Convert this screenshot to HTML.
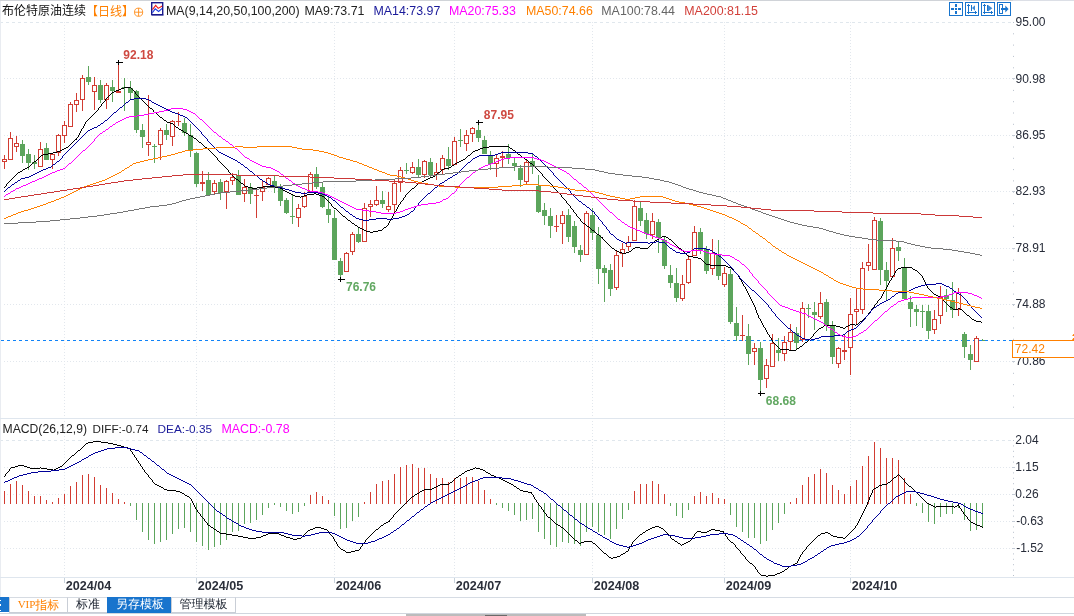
<!DOCTYPE html>
<html><head><meta charset="utf-8"><title>布伦特原油连续</title>
<style>
html,body{margin:0;padding:0;background:#fff;}
body{width:1074px;height:616px;overflow:hidden;position:relative;font-family:"Liberation Sans","Noto Sans CJK SC",sans-serif;}
svg{position:absolute;left:0;top:0;}
.t{position:absolute;white-space:nowrap;font-size:12.4px;line-height:14px;height:14px;}
.cj{font-family:"Liberation Sans","Noto Sans CJK SC",sans-serif;font-size:12px;}
.tab{position:absolute;top:597px;height:14px;line-height:14.5px;font-size:12px;border:1px solid #c9ced6;border-top-color:#d6dbe2;background:#fff;text-align:center;font-family:"Liberation Mono","WenQuanYi Zen Hei","Noto Sans CJK SC",monospace;box-sizing:content-box;}
</style></head><body>
<svg width="1074" height="616" viewBox="0 0 1074 616">
<line x1="0" y1="22.5" x2="1011" y2="22.5" stroke="#e0e7ed" stroke-width="1" stroke-dasharray="3,3"/>
<line x1="4" y1="78.5" x2="1011" y2="78.5" stroke="#e2e7ed" stroke-width="1" stroke-dasharray="1,2"/>
<line x1="4" y1="135.5" x2="1011" y2="135.5" stroke="#e2e7ed" stroke-width="1" stroke-dasharray="1,2"/>
<line x1="4" y1="191.5" x2="1011" y2="191.5" stroke="#e2e7ed" stroke-width="1" stroke-dasharray="1,2"/>
<line x1="4" y1="248.5" x2="1011" y2="248.5" stroke="#e2e7ed" stroke-width="1" stroke-dasharray="1,2"/>
<line x1="4" y1="304.5" x2="1011" y2="304.5" stroke="#e2e7ed" stroke-width="1" stroke-dasharray="1,2"/>
<line x1="4" y1="361.5" x2="1011" y2="361.5" stroke="#e2e7ed" stroke-width="1" stroke-dasharray="1,2"/>
<line x1="0" y1="440.5" x2="1011" y2="440.5" stroke="#e0e7ed" stroke-width="1" stroke-dasharray="3,3"/>
<line x1="4" y1="467.5" x2="1011" y2="467.5" stroke="#e2e7ed" stroke-width="1" stroke-dasharray="1,2"/>
<line x1="4" y1="494.5" x2="1011" y2="494.5" stroke="#e2e7ed" stroke-width="1" stroke-dasharray="1,2"/>
<line x1="4" y1="521.5" x2="1011" y2="521.5" stroke="#e2e7ed" stroke-width="1" stroke-dasharray="1,2"/>
<line x1="4" y1="548.5" x2="1011" y2="548.5" stroke="#e2e7ed" stroke-width="1" stroke-dasharray="1,2"/>
<line x1="64.5" y1="22" x2="64.5" y2="577" stroke="#e2e7ed" stroke-width="1" stroke-dasharray="1,2"/>
<line x1="64.5" y1="578" x2="64.5" y2="583" stroke="#c9d3dc" stroke-width="1"/>
<line x1="196.5" y1="22" x2="196.5" y2="577" stroke="#e2e7ed" stroke-width="1" stroke-dasharray="1,2"/>
<line x1="196.5" y1="578" x2="196.5" y2="583" stroke="#c9d3dc" stroke-width="1"/>
<line x1="334.5" y1="22" x2="334.5" y2="577" stroke="#e2e7ed" stroke-width="1" stroke-dasharray="1,2"/>
<line x1="334.5" y1="578" x2="334.5" y2="583" stroke="#c9d3dc" stroke-width="1"/>
<line x1="454.5" y1="22" x2="454.5" y2="577" stroke="#e2e7ed" stroke-width="1" stroke-dasharray="1,2"/>
<line x1="454.5" y1="578" x2="454.5" y2="583" stroke="#c9d3dc" stroke-width="1"/>
<line x1="592.5" y1="22" x2="592.5" y2="577" stroke="#e2e7ed" stroke-width="1" stroke-dasharray="1,2"/>
<line x1="592.5" y1="578" x2="592.5" y2="583" stroke="#c9d3dc" stroke-width="1"/>
<line x1="724.5" y1="22" x2="724.5" y2="577" stroke="#e2e7ed" stroke-width="1" stroke-dasharray="1,2"/>
<line x1="724.5" y1="578" x2="724.5" y2="583" stroke="#c9d3dc" stroke-width="1"/>
<line x1="850.5" y1="22" x2="850.5" y2="577" stroke="#e2e7ed" stroke-width="1" stroke-dasharray="1,2"/>
<line x1="850.5" y1="578" x2="850.5" y2="583" stroke="#c9d3dc" stroke-width="1"/>
<rect x="1013" y="22.0" width="1" height="1" fill="#b8c0cc"/>
<rect x="1013" y="33.3" width="1" height="1" fill="#b8c0cc"/>
<rect x="1013" y="44.6" width="1" height="1" fill="#b8c0cc"/>
<rect x="1013" y="55.9" width="1" height="1" fill="#b8c0cc"/>
<rect x="1013" y="67.3" width="1" height="1" fill="#b8c0cc"/>
<rect x="1013" y="78.6" width="1" height="1" fill="#b8c0cc"/>
<rect x="1013" y="89.9" width="1" height="1" fill="#b8c0cc"/>
<rect x="1013" y="101.2" width="1" height="1" fill="#b8c0cc"/>
<rect x="1013" y="112.5" width="1" height="1" fill="#b8c0cc"/>
<rect x="1013" y="123.8" width="1" height="1" fill="#b8c0cc"/>
<rect x="1013" y="135.2" width="1" height="1" fill="#b8c0cc"/>
<rect x="1013" y="146.5" width="1" height="1" fill="#b8c0cc"/>
<rect x="1013" y="157.8" width="1" height="1" fill="#b8c0cc"/>
<rect x="1013" y="169.1" width="1" height="1" fill="#b8c0cc"/>
<rect x="1013" y="180.4" width="1" height="1" fill="#b8c0cc"/>
<rect x="1013" y="191.7" width="1" height="1" fill="#b8c0cc"/>
<rect x="1013" y="203.1" width="1" height="1" fill="#b8c0cc"/>
<rect x="1013" y="214.4" width="1" height="1" fill="#b8c0cc"/>
<rect x="1013" y="225.7" width="1" height="1" fill="#b8c0cc"/>
<rect x="1013" y="237.0" width="1" height="1" fill="#b8c0cc"/>
<rect x="1013" y="248.3" width="1" height="1" fill="#b8c0cc"/>
<rect x="1013" y="259.6" width="1" height="1" fill="#b8c0cc"/>
<rect x="1013" y="271.0" width="1" height="1" fill="#b8c0cc"/>
<rect x="1013" y="282.3" width="1" height="1" fill="#b8c0cc"/>
<rect x="1013" y="293.6" width="1" height="1" fill="#b8c0cc"/>
<rect x="1013" y="304.9" width="1" height="1" fill="#b8c0cc"/>
<rect x="1013" y="316.2" width="1" height="1" fill="#b8c0cc"/>
<rect x="1013" y="327.5" width="1" height="1" fill="#b8c0cc"/>
<rect x="1013" y="338.8" width="1" height="1" fill="#b8c0cc"/>
<rect x="1013" y="350.2" width="1" height="1" fill="#b8c0cc"/>
<rect x="1013" y="361.5" width="1" height="1" fill="#b8c0cc"/>
<rect x="1013" y="372.8" width="1" height="1" fill="#b8c0cc"/>
<rect x="1013" y="384.1" width="1" height="1" fill="#b8c0cc"/>
<rect x="1013" y="395.4" width="1" height="1" fill="#b8c0cc"/>
<rect x="1013" y="406.7" width="1" height="1" fill="#b8c0cc"/>
<rect x="1013" y="440.0" width="1" height="1" fill="#b8c0cc"/>
<rect x="1013" y="445.4" width="1" height="1" fill="#b8c0cc"/>
<rect x="1013" y="450.8" width="1" height="1" fill="#b8c0cc"/>
<rect x="1013" y="456.2" width="1" height="1" fill="#b8c0cc"/>
<rect x="1013" y="461.6" width="1" height="1" fill="#b8c0cc"/>
<rect x="1013" y="467.0" width="1" height="1" fill="#b8c0cc"/>
<rect x="1013" y="472.4" width="1" height="1" fill="#b8c0cc"/>
<rect x="1013" y="477.8" width="1" height="1" fill="#b8c0cc"/>
<rect x="1013" y="483.2" width="1" height="1" fill="#b8c0cc"/>
<rect x="1013" y="488.6" width="1" height="1" fill="#b8c0cc"/>
<rect x="1013" y="494.0" width="1" height="1" fill="#b8c0cc"/>
<rect x="1013" y="499.4" width="1" height="1" fill="#b8c0cc"/>
<rect x="1013" y="504.8" width="1" height="1" fill="#b8c0cc"/>
<rect x="1013" y="510.2" width="1" height="1" fill="#b8c0cc"/>
<rect x="1013" y="515.6" width="1" height="1" fill="#b8c0cc"/>
<rect x="1013" y="521.0" width="1" height="1" fill="#b8c0cc"/>
<rect x="1013" y="526.4" width="1" height="1" fill="#b8c0cc"/>
<rect x="1013" y="531.8" width="1" height="1" fill="#b8c0cc"/>
<rect x="1013" y="537.2" width="1" height="1" fill="#b8c0cc"/>
<rect x="1013" y="542.6" width="1" height="1" fill="#b8c0cc"/>
<rect x="1013" y="548.0" width="1" height="1" fill="#b8c0cc"/>
<rect x="1013" y="553.4" width="1" height="1" fill="#b8c0cc"/>
<rect x="1013" y="558.8" width="1" height="1" fill="#b8c0cc"/>
<rect x="1013" y="564.2" width="1" height="1" fill="#b8c0cc"/>
<rect x="1013" y="569.6" width="1" height="1" fill="#b8c0cc"/>
<rect x="1013" y="575.0" width="1" height="1" fill="#b8c0cc"/>
<rect x="1012" y="78" width="3" height="1" fill="#c5ccd6"/>
<rect x="1012" y="135" width="3" height="1" fill="#c5ccd6"/>
<rect x="1012" y="191" width="3" height="1" fill="#c5ccd6"/>
<rect x="1012" y="248" width="3" height="1" fill="#c5ccd6"/>
<rect x="1012" y="304" width="3" height="1" fill="#c5ccd6"/>
<rect x="1012" y="361" width="3" height="1" fill="#c5ccd6"/>
<rect x="1012" y="467" width="3" height="1" fill="#c5ccd6"/>
<rect x="1012" y="494" width="3" height="1" fill="#c5ccd6"/>
<rect x="1012" y="521" width="3" height="1" fill="#c5ccd6"/>
<rect x="1012" y="548" width="3" height="1" fill="#c5ccd6"/>
<rect x="0" y="0" width="1013" height="1" fill="#d0d3d8"/>
<rect x="1013" y="0" width="61" height="1" fill="#dcdfe6"/>
<rect x="0" y="1" width="1" height="596" fill="#e9ecf1"/>
<rect x="0" y="418" width="1074" height="1" fill="#dfe6ee"/>
<rect x="0" y="577" width="1074" height="1" fill="#dfe6ee"/>
<rect x="0" y="597" width="1074" height="1" fill="#d6dce4"/>
<line x1="1" y1="340.5" x2="1012" y2="340.5" stroke="#1083f8" stroke-width="1" stroke-dasharray="3,3"/>
<g shape-rendering="crispEdges"><rect x="4" y="155" width="1" height="4" fill="#D23C32"/><rect x="4" y="162" width="1" height="7" fill="#D23C32"/><rect x="2.5" y="159.5" width="4" height="2" fill="#fff" stroke="#D23C32" stroke-width="1"/><rect x="10" y="132" width="1" height="6" fill="#D23C32"/><rect x="8.5" y="138.5" width="4" height="21" fill="#fff" stroke="#D23C32" stroke-width="1"/><rect x="16" y="136" width="1" height="7" fill="#D23C32"/><rect x="16" y="147" width="1" height="5" fill="#D23C32"/><rect x="14.5" y="143.5" width="4" height="3" fill="#fff" stroke="#D23C32" stroke-width="1"/><rect x="22" y="140" width="1" height="23" fill="#5CA55C"/><rect x="20" y="144" width="5" height="12" fill="#5CA55C"/><rect x="28" y="149" width="1" height="21" fill="#5CA55C"/><rect x="26" y="154" width="5" height="9" fill="#5CA55C"/><rect x="34" y="155" width="1" height="14" fill="#5CA55C"/><rect x="32" y="162" width="5" height="2" fill="#5CA55C"/><rect x="40" y="142" width="1" height="7" fill="#D23C32"/><rect x="38.5" y="149.5" width="4" height="17" fill="#fff" stroke="#D23C32" stroke-width="1"/><rect x="46" y="143" width="1" height="17" fill="#5CA55C"/><rect x="44" y="148" width="5" height="12" fill="#5CA55C"/><rect x="52" y="154" width="1" height="0" fill="#D23C32"/><rect x="52" y="160" width="1" height="9" fill="#D23C32"/><rect x="50.5" y="154.5" width="4" height="5" fill="#fff" stroke="#D23C32" stroke-width="1"/><rect x="58" y="134" width="1" height="1" fill="#D23C32"/><rect x="58" y="153" width="1" height="3" fill="#D23C32"/><rect x="56.5" y="135.5" width="4" height="17" fill="#fff" stroke="#D23C32" stroke-width="1"/><rect x="64" y="121" width="1" height="4" fill="#D23C32"/><rect x="64" y="136" width="1" height="7" fill="#D23C32"/><rect x="62.5" y="125.5" width="4" height="10" fill="#fff" stroke="#D23C32" stroke-width="1"/><rect x="70" y="102" width="1" height="2" fill="#D23C32"/><rect x="68.5" y="104.5" width="4" height="22" fill="#fff" stroke="#D23C32" stroke-width="1"/><rect x="76" y="93" width="1" height="7" fill="#D23C32"/><rect x="76" y="105" width="1" height="7" fill="#D23C32"/><rect x="74.5" y="100.5" width="4" height="4" fill="#fff" stroke="#D23C32" stroke-width="1"/><rect x="82" y="75" width="1" height="3" fill="#D23C32"/><rect x="82" y="100" width="1" height="11" fill="#D23C32"/><rect x="80.5" y="78.5" width="4" height="21" fill="#fff" stroke="#D23C32" stroke-width="1"/><rect x="88" y="66" width="1" height="19" fill="#5CA55C"/><rect x="86" y="77" width="5" height="5" fill="#5CA55C"/><rect x="94" y="77" width="1" height="8" fill="#D23C32"/><rect x="94" y="92" width="1" height="18" fill="#D23C32"/><rect x="92.5" y="85.5" width="4" height="6" fill="#fff" stroke="#D23C32" stroke-width="1"/><rect x="100" y="80" width="1" height="23" fill="#5CA55C"/><rect x="98" y="85" width="5" height="15" fill="#5CA55C"/><rect x="106" y="83" width="1" height="2" fill="#D23C32"/><rect x="106" y="100" width="1" height="9" fill="#D23C32"/><rect x="104.5" y="85.5" width="4" height="14" fill="#fff" stroke="#D23C32" stroke-width="1"/><rect x="112" y="80" width="1" height="22" fill="#5CA55C"/><rect x="110" y="87" width="5" height="4" fill="#5CA55C"/><rect x="118" y="62" width="1" height="31" fill="#D23C32"/><rect x="116" y="91" width="5" height="2" fill="#D23C32"/><rect x="124" y="78" width="1" height="33" fill="#5CA55C"/><rect x="122" y="87" width="5" height="1" fill="#5CA55C"/><rect x="130" y="81" width="1" height="19" fill="#5CA55C"/><rect x="128" y="88" width="5" height="5" fill="#5CA55C"/><rect x="136" y="90" width="1" height="43" fill="#5CA55C"/><rect x="134" y="91" width="5" height="39" fill="#5CA55C"/><rect x="142" y="124" width="1" height="24" fill="#5CA55C"/><rect x="140" y="130" width="5" height="7" fill="#5CA55C"/><rect x="148" y="95" width="1" height="47" fill="#D23C32"/><rect x="148" y="145" width="1" height="11" fill="#D23C32"/><rect x="146.5" y="142.5" width="4" height="2" fill="#fff" stroke="#D23C32" stroke-width="1"/><rect x="154" y="144" width="1" height="19" fill="#5CA55C"/><rect x="152" y="146" width="5" height="1" fill="#5CA55C"/><rect x="160" y="128" width="1" height="2" fill="#D23C32"/><rect x="160" y="145" width="1" height="15" fill="#D23C32"/><rect x="158.5" y="130.5" width="4" height="14" fill="#fff" stroke="#D23C32" stroke-width="1"/><rect x="166" y="124" width="1" height="16" fill="#5CA55C"/><rect x="164" y="130" width="5" height="5" fill="#5CA55C"/><rect x="172" y="120" width="1" height="1" fill="#D23C32"/><rect x="172" y="137" width="1" height="9" fill="#D23C32"/><rect x="170.5" y="121.5" width="4" height="15" fill="#fff" stroke="#D23C32" stroke-width="1"/><rect x="178" y="112" width="1" height="14" fill="#D23C32"/><rect x="176" y="121" width="5" height="1" fill="#D23C32"/><rect x="184" y="118" width="1" height="18" fill="#5CA55C"/><rect x="182" y="123" width="5" height="10" fill="#5CA55C"/><rect x="190" y="124" width="1" height="33" fill="#5CA55C"/><rect x="188" y="135" width="5" height="15" fill="#5CA55C"/><rect x="196" y="152" width="1" height="35" fill="#5CA55C"/><rect x="194" y="153" width="5" height="31" fill="#5CA55C"/><rect x="202" y="171" width="1" height="20" fill="#D23C32"/><rect x="200" y="182" width="5" height="2" fill="#D23C32"/><rect x="208" y="172" width="1" height="23" fill="#5CA55C"/><rect x="206" y="180" width="5" height="15" fill="#5CA55C"/><rect x="214" y="180" width="1" height="3" fill="#D23C32"/><rect x="214" y="192" width="1" height="2" fill="#D23C32"/><rect x="212.5" y="183.5" width="4" height="8" fill="#fff" stroke="#D23C32" stroke-width="1"/><rect x="220" y="179" width="1" height="21" fill="#5CA55C"/><rect x="218" y="182" width="5" height="11" fill="#5CA55C"/><rect x="226" y="180" width="1" height="1" fill="#D23C32"/><rect x="226" y="192" width="1" height="17" fill="#D23C32"/><rect x="224.5" y="181.5" width="4" height="10" fill="#fff" stroke="#D23C32" stroke-width="1"/><rect x="232" y="173" width="1" height="4" fill="#D23C32"/><rect x="232" y="181" width="1" height="4" fill="#D23C32"/><rect x="230.5" y="177.5" width="4" height="3" fill="#fff" stroke="#D23C32" stroke-width="1"/><rect x="238" y="170" width="1" height="25" fill="#5CA55C"/><rect x="236" y="175" width="5" height="20" fill="#5CA55C"/><rect x="244" y="179" width="1" height="8" fill="#D23C32"/><rect x="244" y="194" width="1" height="8" fill="#D23C32"/><rect x="242.5" y="187.5" width="4" height="6" fill="#fff" stroke="#D23C32" stroke-width="1"/><rect x="250" y="183" width="1" height="21" fill="#5CA55C"/><rect x="248" y="187" width="5" height="7" fill="#5CA55C"/><rect x="256" y="189" width="1" height="29" fill="#D23C32"/><rect x="254" y="195" width="5" height="1" fill="#D23C32"/><rect x="262" y="180" width="1" height="7" fill="#D23C32"/><rect x="262" y="192" width="1" height="9" fill="#D23C32"/><rect x="260.5" y="187.5" width="4" height="4" fill="#fff" stroke="#D23C32" stroke-width="1"/><rect x="268" y="177" width="1" height="1" fill="#D23C32"/><rect x="266.5" y="178.5" width="4" height="6" fill="#fff" stroke="#D23C32" stroke-width="1"/><rect x="274" y="176" width="1" height="17" fill="#5CA55C"/><rect x="272" y="181" width="5" height="6" fill="#5CA55C"/><rect x="280" y="184" width="1" height="22" fill="#5CA55C"/><rect x="278" y="186" width="5" height="15" fill="#5CA55C"/><rect x="286" y="198" width="1" height="16" fill="#5CA55C"/><rect x="284" y="200" width="5" height="13" fill="#5CA55C"/><rect x="292" y="195" width="1" height="29" fill="#5CA55C"/><rect x="290" y="216" width="5" height="1" fill="#5CA55C"/><rect x="298" y="204" width="1" height="4" fill="#D23C32"/><rect x="298" y="218" width="1" height="9" fill="#D23C32"/><rect x="296.5" y="208.5" width="4" height="9" fill="#fff" stroke="#D23C32" stroke-width="1"/><rect x="304" y="192" width="1" height="4" fill="#D23C32"/><rect x="304" y="207" width="1" height="1" fill="#D23C32"/><rect x="302.5" y="196.5" width="4" height="10" fill="#fff" stroke="#D23C32" stroke-width="1"/><rect x="310" y="172" width="1" height="2" fill="#D23C32"/><rect x="308.5" y="174.5" width="4" height="17" fill="#fff" stroke="#D23C32" stroke-width="1"/><rect x="316" y="167" width="1" height="22" fill="#5CA55C"/><rect x="314" y="174" width="5" height="13" fill="#5CA55C"/><rect x="322" y="183" width="1" height="25" fill="#5CA55C"/><rect x="320" y="187" width="5" height="20" fill="#5CA55C"/><rect x="328" y="197" width="1" height="26" fill="#5CA55C"/><rect x="326" y="209" width="5" height="6" fill="#5CA55C"/><rect x="334" y="210" width="1" height="50" fill="#5CA55C"/><rect x="332" y="218" width="5" height="42" fill="#5CA55C"/><rect x="340" y="258" width="1" height="21" fill="#5CA55C"/><rect x="338" y="261" width="5" height="14" fill="#5CA55C"/><rect x="346" y="252" width="1" height="1" fill="#D23C32"/><rect x="344.5" y="253.5" width="4" height="18" fill="#fff" stroke="#D23C32" stroke-width="1"/><rect x="352" y="232" width="1" height="2" fill="#D23C32"/><rect x="352" y="252" width="1" height="3" fill="#D23C32"/><rect x="350.5" y="234.5" width="4" height="17" fill="#fff" stroke="#D23C32" stroke-width="1"/><rect x="358" y="228" width="1" height="15" fill="#5CA55C"/><rect x="356" y="234" width="5" height="8" fill="#5CA55C"/><rect x="364" y="203" width="1" height="5" fill="#D23C32"/><rect x="362.5" y="208.5" width="4" height="33" fill="#fff" stroke="#D23C32" stroke-width="1"/><rect x="370" y="200" width="1" height="4" fill="#D23C32"/><rect x="370" y="207" width="1" height="10" fill="#D23C32"/><rect x="368.5" y="204.5" width="4" height="2" fill="#fff" stroke="#D23C32" stroke-width="1"/><rect x="376" y="186" width="1" height="14" fill="#D23C32"/><rect x="376" y="205" width="1" height="1" fill="#D23C32"/><rect x="374.5" y="200.5" width="4" height="4" fill="#fff" stroke="#D23C32" stroke-width="1"/><rect x="382" y="191" width="1" height="17" fill="#5CA55C"/><rect x="380" y="200" width="5" height="4" fill="#5CA55C"/><rect x="388" y="192" width="1" height="14" fill="#D23C32"/><rect x="388" y="210" width="1" height="2" fill="#D23C32"/><rect x="386.5" y="206.5" width="4" height="3" fill="#fff" stroke="#D23C32" stroke-width="1"/><rect x="394" y="180" width="1" height="3" fill="#D23C32"/><rect x="394" y="205" width="1" height="8" fill="#D23C32"/><rect x="392.5" y="183.5" width="4" height="21" fill="#fff" stroke="#D23C32" stroke-width="1"/><rect x="400" y="167" width="1" height="3" fill="#D23C32"/><rect x="400" y="183" width="1" height="9" fill="#D23C32"/><rect x="398.5" y="170.5" width="4" height="12" fill="#fff" stroke="#D23C32" stroke-width="1"/><rect x="406" y="163" width="1" height="11" fill="#5CA55C"/><rect x="404" y="170" width="5" height="1" fill="#5CA55C"/><rect x="412" y="162" width="1" height="5" fill="#D23C32"/><rect x="412" y="173" width="1" height="1" fill="#D23C32"/><rect x="410.5" y="167.5" width="4" height="5" fill="#fff" stroke="#D23C32" stroke-width="1"/><rect x="418" y="159" width="1" height="18" fill="#5CA55C"/><rect x="416" y="167" width="5" height="8" fill="#5CA55C"/><rect x="424" y="160" width="1" height="1" fill="#D23C32"/><rect x="424" y="175" width="1" height="3" fill="#D23C32"/><rect x="422.5" y="161.5" width="4" height="13" fill="#fff" stroke="#D23C32" stroke-width="1"/><rect x="430" y="158" width="1" height="19" fill="#5CA55C"/><rect x="428" y="162" width="5" height="13" fill="#5CA55C"/><rect x="436" y="163" width="1" height="9" fill="#D23C32"/><rect x="436" y="175" width="1" height="5" fill="#D23C32"/><rect x="434.5" y="172.5" width="4" height="2" fill="#fff" stroke="#D23C32" stroke-width="1"/><rect x="442" y="155" width="1" height="3" fill="#D23C32"/><rect x="442" y="170" width="1" height="5" fill="#D23C32"/><rect x="440.5" y="158.5" width="4" height="11" fill="#fff" stroke="#D23C32" stroke-width="1"/><rect x="448" y="147" width="1" height="23" fill="#5CA55C"/><rect x="446" y="159" width="5" height="7" fill="#5CA55C"/><rect x="454" y="137" width="1" height="4" fill="#D23C32"/><rect x="452.5" y="141.5" width="4" height="23" fill="#fff" stroke="#D23C32" stroke-width="1"/><rect x="460" y="129" width="1" height="18" fill="#5CA55C"/><rect x="458" y="140" width="5" height="1" fill="#5CA55C"/><rect x="466" y="130" width="1" height="5" fill="#D23C32"/><rect x="466" y="144" width="1" height="7" fill="#D23C32"/><rect x="464.5" y="135.5" width="4" height="8" fill="#fff" stroke="#D23C32" stroke-width="1"/><rect x="472" y="127" width="1" height="1" fill="#D23C32"/><rect x="472" y="134" width="1" height="8" fill="#D23C32"/><rect x="470.5" y="128.5" width="4" height="5" fill="#fff" stroke="#D23C32" stroke-width="1"/><rect x="478" y="122" width="1" height="20" fill="#5CA55C"/><rect x="476" y="130" width="5" height="8" fill="#5CA55C"/><rect x="484" y="136" width="1" height="18" fill="#5CA55C"/><rect x="482" y="140" width="5" height="14" fill="#5CA55C"/><rect x="490" y="151" width="1" height="19" fill="#5CA55C"/><rect x="488" y="155" width="5" height="9" fill="#5CA55C"/><rect x="496" y="155" width="1" height="3" fill="#D23C32"/><rect x="496" y="164" width="1" height="13" fill="#D23C32"/><rect x="494.5" y="158.5" width="4" height="5" fill="#fff" stroke="#D23C32" stroke-width="1"/><rect x="502" y="151" width="1" height="17" fill="#D23C32"/><rect x="500" y="156" width="5" height="2" fill="#D23C32"/><rect x="508" y="144" width="1" height="20" fill="#5CA55C"/><rect x="506" y="154" width="5" height="4" fill="#5CA55C"/><rect x="514" y="158" width="1" height="13" fill="#5CA55C"/><rect x="512" y="163" width="5" height="3" fill="#5CA55C"/><rect x="520" y="165" width="1" height="22" fill="#5CA55C"/><rect x="518" y="168" width="5" height="12" fill="#5CA55C"/><rect x="526" y="160" width="1" height="2" fill="#D23C32"/><rect x="526" y="182" width="1" height="3" fill="#D23C32"/><rect x="524.5" y="162.5" width="4" height="19" fill="#fff" stroke="#D23C32" stroke-width="1"/><rect x="532" y="153" width="1" height="21" fill="#5CA55C"/><rect x="530" y="161" width="5" height="6" fill="#5CA55C"/><rect x="538" y="175" width="1" height="38" fill="#5CA55C"/><rect x="536" y="186" width="5" height="26" fill="#5CA55C"/><rect x="544" y="203" width="1" height="22" fill="#5CA55C"/><rect x="542" y="210" width="5" height="6" fill="#5CA55C"/><rect x="550" y="208" width="1" height="30" fill="#5CA55C"/><rect x="548" y="216" width="5" height="10" fill="#5CA55C"/><rect x="556" y="215" width="1" height="17" fill="#D23C32"/><rect x="554" y="226" width="5" height="1" fill="#D23C32"/><rect x="562" y="211" width="1" height="4" fill="#D23C32"/><rect x="562" y="224" width="1" height="20" fill="#D23C32"/><rect x="560.5" y="215.5" width="4" height="8" fill="#fff" stroke="#D23C32" stroke-width="1"/><rect x="568" y="209" width="1" height="33" fill="#5CA55C"/><rect x="566" y="215" width="5" height="22" fill="#5CA55C"/><rect x="574" y="221" width="1" height="32" fill="#5CA55C"/><rect x="572" y="226" width="5" height="21" fill="#5CA55C"/><rect x="580" y="245" width="1" height="17" fill="#5CA55C"/><rect x="578" y="250" width="5" height="5" fill="#5CA55C"/><rect x="586" y="211" width="1" height="2" fill="#D23C32"/><rect x="584.5" y="213.5" width="4" height="41" fill="#fff" stroke="#D23C32" stroke-width="1"/><rect x="592" y="208" width="1" height="32" fill="#5CA55C"/><rect x="590" y="215" width="5" height="18" fill="#5CA55C"/><rect x="598" y="227" width="1" height="57" fill="#5CA55C"/><rect x="596" y="235" width="5" height="34" fill="#5CA55C"/><rect x="604" y="265" width="1" height="37" fill="#5CA55C"/><rect x="602" y="268" width="5" height="5" fill="#5CA55C"/><rect x="610" y="264" width="1" height="32" fill="#5CA55C"/><rect x="608" y="270" width="5" height="19" fill="#5CA55C"/><rect x="616" y="250" width="1" height="5" fill="#D23C32"/><rect x="616" y="288" width="1" height="2" fill="#D23C32"/><rect x="614.5" y="255.5" width="4" height="32" fill="#fff" stroke="#D23C32" stroke-width="1"/><rect x="622" y="243" width="1" height="6" fill="#D23C32"/><rect x="622" y="254" width="1" height="13" fill="#D23C32"/><rect x="620.5" y="249.5" width="4" height="4" fill="#fff" stroke="#D23C32" stroke-width="1"/><rect x="628" y="236" width="1" height="6" fill="#D23C32"/><rect x="628" y="247" width="1" height="4" fill="#D23C32"/><rect x="626.5" y="242.5" width="4" height="4" fill="#fff" stroke="#D23C32" stroke-width="1"/><rect x="634" y="200" width="1" height="6" fill="#D23C32"/><rect x="632.5" y="206.5" width="4" height="34" fill="#fff" stroke="#D23C32" stroke-width="1"/><rect x="640" y="202" width="1" height="24" fill="#5CA55C"/><rect x="638" y="208" width="5" height="13" fill="#5CA55C"/><rect x="646" y="213" width="1" height="26" fill="#5CA55C"/><rect x="644" y="220" width="5" height="14" fill="#5CA55C"/><rect x="652" y="213" width="1" height="8" fill="#D23C32"/><rect x="652" y="235" width="1" height="4" fill="#D23C32"/><rect x="650.5" y="221.5" width="4" height="13" fill="#fff" stroke="#D23C32" stroke-width="1"/><rect x="658" y="219" width="1" height="34" fill="#5CA55C"/><rect x="656" y="222" width="5" height="16" fill="#5CA55C"/><rect x="664" y="236" width="1" height="33" fill="#5CA55C"/><rect x="662" y="240" width="5" height="26" fill="#5CA55C"/><rect x="670" y="265" width="1" height="23" fill="#5CA55C"/><rect x="668" y="275" width="5" height="8" fill="#5CA55C"/><rect x="676" y="268" width="1" height="34" fill="#5CA55C"/><rect x="674" y="283" width="5" height="15" fill="#5CA55C"/><rect x="682" y="275" width="1" height="9" fill="#D23C32"/><rect x="682" y="299" width="1" height="2" fill="#D23C32"/><rect x="680.5" y="284.5" width="4" height="14" fill="#fff" stroke="#D23C32" stroke-width="1"/><rect x="688" y="255" width="1" height="4" fill="#D23C32"/><rect x="688" y="283" width="1" height="1" fill="#D23C32"/><rect x="686.5" y="259.5" width="4" height="23" fill="#fff" stroke="#D23C32" stroke-width="1"/><rect x="694" y="226" width="1" height="6" fill="#D23C32"/><rect x="692.5" y="232.5" width="4" height="23" fill="#fff" stroke="#D23C32" stroke-width="1"/><rect x="700" y="228" width="1" height="26" fill="#5CA55C"/><rect x="698" y="232" width="5" height="18" fill="#5CA55C"/><rect x="706" y="246" width="1" height="28" fill="#5CA55C"/><rect x="704" y="249" width="5" height="22" fill="#5CA55C"/><rect x="712" y="239" width="1" height="14" fill="#D23C32"/><rect x="712" y="269" width="1" height="6" fill="#D23C32"/><rect x="710.5" y="253.5" width="4" height="15" fill="#fff" stroke="#D23C32" stroke-width="1"/><rect x="718" y="240" width="1" height="40" fill="#5CA55C"/><rect x="716" y="254" width="5" height="22" fill="#5CA55C"/><rect x="724" y="267" width="1" height="6" fill="#D23C32"/><rect x="724" y="285" width="1" height="2" fill="#D23C32"/><rect x="722.5" y="273.5" width="4" height="11" fill="#fff" stroke="#D23C32" stroke-width="1"/><rect x="730" y="269" width="1" height="55" fill="#5CA55C"/><rect x="728" y="274" width="5" height="48" fill="#5CA55C"/><rect x="736" y="307" width="1" height="34" fill="#5CA55C"/><rect x="734" y="323" width="5" height="13" fill="#5CA55C"/><rect x="742" y="315" width="1" height="26" fill="#D23C32"/><rect x="740" y="335" width="5" height="1" fill="#D23C32"/><rect x="748" y="324" width="1" height="41" fill="#5CA55C"/><rect x="746" y="336" width="5" height="18" fill="#5CA55C"/><rect x="754" y="343" width="1" height="5" fill="#D23C32"/><rect x="754" y="352" width="1" height="13" fill="#D23C32"/><rect x="752.5" y="348.5" width="4" height="3" fill="#fff" stroke="#D23C32" stroke-width="1"/><rect x="760" y="342" width="1" height="50" fill="#5CA55C"/><rect x="758" y="348" width="5" height="32" fill="#5CA55C"/><rect x="766" y="359" width="1" height="6" fill="#D23C32"/><rect x="766" y="379" width="1" height="9" fill="#D23C32"/><rect x="764.5" y="365.5" width="4" height="13" fill="#fff" stroke="#D23C32" stroke-width="1"/><rect x="772" y="334" width="1" height="9" fill="#D23C32"/><rect x="770.5" y="343.5" width="4" height="23" fill="#fff" stroke="#D23C32" stroke-width="1"/><rect x="778" y="338" width="1" height="23" fill="#5CA55C"/><rect x="776" y="350" width="5" height="3" fill="#5CA55C"/><rect x="784" y="336" width="1" height="6" fill="#D23C32"/><rect x="784" y="354" width="1" height="7" fill="#D23C32"/><rect x="782.5" y="342.5" width="4" height="11" fill="#fff" stroke="#D23C32" stroke-width="1"/><rect x="790" y="324" width="1" height="8" fill="#D23C32"/><rect x="790" y="342" width="1" height="8" fill="#D23C32"/><rect x="788.5" y="332.5" width="4" height="9" fill="#fff" stroke="#D23C32" stroke-width="1"/><rect x="796" y="327" width="1" height="22" fill="#5CA55C"/><rect x="794" y="333" width="5" height="10" fill="#5CA55C"/><rect x="802" y="302" width="1" height="6" fill="#D23C32"/><rect x="802" y="340" width="1" height="2" fill="#D23C32"/><rect x="800.5" y="308.5" width="4" height="31" fill="#fff" stroke="#D23C32" stroke-width="1"/><rect x="808" y="304" width="1" height="14" fill="#5CA55C"/><rect x="806" y="308" width="5" height="1" fill="#5CA55C"/><rect x="814" y="302" width="1" height="28" fill="#5CA55C"/><rect x="812" y="312" width="5" height="3" fill="#5CA55C"/><rect x="820" y="292" width="1" height="11" fill="#D23C32"/><rect x="820" y="317" width="1" height="2" fill="#D23C32"/><rect x="818.5" y="303.5" width="4" height="13" fill="#fff" stroke="#D23C32" stroke-width="1"/><rect x="826" y="299" width="1" height="32" fill="#5CA55C"/><rect x="824" y="302" width="5" height="24" fill="#5CA55C"/><rect x="832" y="321" width="1" height="43" fill="#5CA55C"/><rect x="830" y="326" width="5" height="31" fill="#5CA55C"/><rect x="838" y="347" width="1" height="1" fill="#D23C32"/><rect x="838" y="364" width="1" height="4" fill="#D23C32"/><rect x="836.5" y="348.5" width="4" height="15" fill="#fff" stroke="#D23C32" stroke-width="1"/><rect x="844" y="334" width="1" height="26" fill="#D23C32"/><rect x="842" y="350" width="5" height="2" fill="#D23C32"/><rect x="850" y="298" width="1" height="16" fill="#D23C32"/><rect x="850" y="348" width="1" height="27" fill="#D23C32"/><rect x="848.5" y="314.5" width="4" height="33" fill="#fff" stroke="#D23C32" stroke-width="1"/><rect x="856" y="288" width="1" height="21" fill="#D23C32"/><rect x="856" y="312" width="1" height="12" fill="#D23C32"/><rect x="854.5" y="309.5" width="4" height="2" fill="#fff" stroke="#D23C32" stroke-width="1"/><rect x="862" y="262" width="1" height="6" fill="#D23C32"/><rect x="862" y="310" width="1" height="4" fill="#D23C32"/><rect x="860.5" y="268.5" width="4" height="41" fill="#fff" stroke="#D23C32" stroke-width="1"/><rect x="868" y="244" width="1" height="18" fill="#D23C32"/><rect x="868" y="266" width="1" height="5" fill="#D23C32"/><rect x="866.5" y="262.5" width="4" height="3" fill="#fff" stroke="#D23C32" stroke-width="1"/><rect x="874" y="217" width="1" height="3" fill="#D23C32"/><rect x="872.5" y="220.5" width="4" height="49" fill="#fff" stroke="#D23C32" stroke-width="1"/><rect x="880" y="218" width="1" height="67" fill="#5CA55C"/><rect x="878" y="221" width="5" height="49" fill="#5CA55C"/><rect x="886" y="262" width="1" height="38" fill="#5CA55C"/><rect x="884" y="270" width="5" height="11" fill="#5CA55C"/><rect x="892" y="238" width="1" height="10" fill="#D23C32"/><rect x="890.5" y="248.5" width="4" height="28" fill="#fff" stroke="#D23C32" stroke-width="1"/><rect x="898" y="242" width="1" height="19" fill="#5CA55C"/><rect x="896" y="247" width="5" height="4" fill="#5CA55C"/><rect x="904" y="258" width="1" height="41" fill="#5CA55C"/><rect x="902" y="267" width="5" height="32" fill="#5CA55C"/><rect x="910" y="296" width="1" height="31" fill="#5CA55C"/><rect x="908" y="302" width="5" height="7" fill="#5CA55C"/><rect x="916" y="305" width="1" height="21" fill="#5CA55C"/><rect x="914" y="309" width="5" height="3" fill="#5CA55C"/><rect x="922" y="305" width="1" height="23" fill="#5CA55C"/><rect x="920" y="311" width="5" height="1" fill="#5CA55C"/><rect x="928" y="305" width="1" height="34" fill="#5CA55C"/><rect x="926" y="311" width="5" height="20" fill="#5CA55C"/><rect x="934" y="310" width="1" height="9" fill="#D23C32"/><rect x="934" y="330" width="1" height="4" fill="#D23C32"/><rect x="932.5" y="319.5" width="4" height="10" fill="#fff" stroke="#D23C32" stroke-width="1"/><rect x="940" y="286" width="1" height="11" fill="#D23C32"/><rect x="940" y="316" width="1" height="8" fill="#D23C32"/><rect x="938.5" y="297.5" width="4" height="18" fill="#fff" stroke="#D23C32" stroke-width="1"/><rect x="946" y="289" width="1" height="23" fill="#5CA55C"/><rect x="944" y="295" width="5" height="4" fill="#5CA55C"/><rect x="952" y="282" width="1" height="36" fill="#5CA55C"/><rect x="950" y="300" width="5" height="10" fill="#5CA55C"/><rect x="958" y="288" width="1" height="4" fill="#D23C32"/><rect x="958" y="310" width="1" height="6" fill="#D23C32"/><rect x="956.5" y="292.5" width="4" height="17" fill="#fff" stroke="#D23C32" stroke-width="1"/><rect x="964" y="332" width="1" height="26" fill="#5CA55C"/><rect x="962" y="334" width="5" height="13" fill="#5CA55C"/><rect x="970" y="345" width="1" height="25" fill="#5CA55C"/><rect x="968" y="354" width="5" height="6" fill="#5CA55C"/><rect x="976" y="336" width="1" height="2" fill="#D23C32"/><rect x="974.5" y="338.5" width="4" height="23" fill="#fff" stroke="#D23C32" stroke-width="1"/><rect x="982" y="340" width="3" height="1" fill="#5CA55C"/><rect x="982" y="339" width="1" height="2" fill="#5CA55C"/></g>
<path d="M4 187.5h1M5 186.5h1M6.5 184v2M7 183.5h1M8 182.5h1M9 181.5h1M10 180.5h1M11 179.5h1M12 178.5h1M13 177.5h1M14 176.5h1M15 175.5h1M16 174.5h1M17 173.5h1M18 172.5h2M20 171.5h2M22 170.5h1M23 169.5h2M25 168.5h2M27 167.5h2M29 166.5h1M30 165.5h1M31 164.5h1M32 163.5h1M33 162.5h1M34 161.5h2M36 160.5h1M37 159.5h1M38 158.5h1M39 157.5h1M40 156.5h1M41 155.5h2M43 154.5h5M48 153.5h5M53 152.5h4M57 151.5h3M60 150.5h2M62 149.5h2M64 148.5h2M66 147.5h2M68 146.5h1M69 145.5h1M70 144.5h1M71 143.5h1M72 142.5h1M73 141.5h1M74 140.5h1M75 139.5h1M76.5 138v2M77 137.5h1M78.5 135v2M79.5 133v2M80.5 131v2M81.5 129v2M82 128.5h1M83.5 126v2M84.5 124v2M85.5 122v2M86 121.5h1M87 120.5h1M88 119.5h1M89 118.5h1M90 117.5h1M91 116.5h1M92 115.5h1M93 114.5h1M94 113.5h1M95 112.5h1M96 111.5h1M97 110.5h1M98.5 108v2M99 107.5h1M100 106.5h1M101.5 104v2M102 103.5h1M103 102.5h1M104 101.5h1M105.5 99v2M106 98.5h1M107 97.5h1M108 96.5h1M109 95.5h1M110 94.5h1M111 93.5h1M112 92.5h2M114 91.5h2M116 90.5h3M119 89.5h2M121 88.5h3M124 87.5h7M131 88.5h1M132 89.5h1M133 90.5h1M134 91.5h1M135.5 92v2M136 94.5h1M137 95.5h1M138 96.5h1M139 97.5h1M140 98.5h1M141 99.5h1M142 100.5h1M143 101.5h1M144 102.5h1M145 103.5h1M146 104.5h1M147 105.5h1M148 106.5h1M149 107.5h1M150 108.5h2M152 109.5h1M153.5 110v2M154 112.5h2M156 113.5h1M157 114.5h1M158 115.5h1M159 116.5h1M160 117.5h2M162 118.5h1M163 119.5h1M164 120.5h2M166 121.5h1M167 122.5h3M170 123.5h3M173 124.5h1M174 125.5h1M175 126.5h1M176 127.5h2M178 128.5h1M179 129.5h2M181 130.5h2M183 131.5h1M184 132.5h2M186 133.5h2M188 134.5h1M189 135.5h2M191 136.5h2M193 137.5h1M194 138.5h2M196 139.5h1M197 140.5h1M198 141.5h1M199 142.5h2M201 143.5h1M202 144.5h1M203 145.5h1M204 146.5h1M205 147.5h2M207 148.5h1M208 149.5h1M209 150.5h1M210 151.5h1M211 152.5h1M212 153.5h1M213 154.5h1M214 155.5h1M215 156.5h1M216 157.5h1M217.5 158v2M218 160.5h1M219 161.5h1M220 162.5h1M221 163.5h1M222 164.5h1M223 165.5h1M224 166.5h1M225 167.5h1M226 168.5h1M227 169.5h1M228.5 170v2M229 172.5h1M230 173.5h1M231 174.5h1M232 175.5h1M233 176.5h1M234 177.5h1M235 178.5h1M236 179.5h2M238 180.5h1M239 181.5h1M240 182.5h1M241 183.5h2M243 184.5h1M244 185.5h1M245 186.5h3M248 187.5h4M252 188.5h5M257 187.5h6M263 186.5h12M275 187.5h5M280 188.5h2M282 189.5h1M283 190.5h2M285 191.5h2M287 192.5h2M289 193.5h2M291 194.5h2M293 195.5h2M295 196.5h5M300 197.5h1M301 196.5h3M304 195.5h3M307 194.5h7M314 193.5h2M316 194.5h3M319 195.5h3M322 196.5h2M324 197.5h1M325 198.5h1M326 199.5h1M327 200.5h1M328 201.5h1M329 202.5h1M330 203.5h1M331.5 204v2M332 206.5h1M333 207.5h1M334 208.5h2M336 209.5h1M337 210.5h1M338 211.5h1M339 212.5h1M340 213.5h1M341 214.5h1M342 215.5h1M343 216.5h2M345 217.5h1M346 218.5h1M347 219.5h1M348 220.5h2M350 221.5h1M351 222.5h1M352 223.5h2M354 224.5h1M355 225.5h2M357 226.5h1M358 227.5h2M360 228.5h2M362 229.5h2M364 230.5h2M366 231.5h4M370 232.5h3M373 231.5h5M378 230.5h4M382 229.5h1M383 228.5h1M384 227.5h2M386 226.5h1M387 225.5h1M388.5 223v2M389.5 221v2M390 220.5h1M391.5 218v2M392.5 216v2M393.5 214v2M394.5 212v2M395 211.5h1M396.5 209v2M397.5 207v2M398.5 205v2M399 204.5h1M400.5 202v2M401 201.5h1M402 200.5h1M403.5 198v2M404 197.5h1M405.5 195v2M406 194.5h1M407 193.5h1M408 192.5h1M409 191.5h1M410 190.5h1M411 189.5h1M412 188.5h2M414 187.5h1M415 186.5h1M416 185.5h1M417 184.5h1M418 183.5h2M420 182.5h2M422 181.5h2M424 180.5h2M426 179.5h2M428 178.5h2M430 177.5h3M433 176.5h2M435 175.5h1M436 174.5h1M437 173.5h1M438 172.5h2M440 171.5h1M441 170.5h1M442 169.5h2M444 168.5h5M449 167.5h2M451 166.5h1M452 165.5h2M454 164.5h1M455 163.5h2M457 162.5h2M459 161.5h2M461 160.5h2M463 159.5h2M465 158.5h1M466 157.5h1M467 156.5h1M468 155.5h2M470 154.5h1M471 153.5h1M472 152.5h1M473 151.5h2M475 150.5h3M478 149.5h2M480 148.5h3M483 147.5h6M489 146.5h20M509 147.5h1M510 148.5h2M512 149.5h1M513 150.5h2M515 151.5h1M516 152.5h1M517 153.5h1M518 154.5h2M520 155.5h1M521 156.5h1M522 157.5h2M524 158.5h1M525 159.5h2M527 160.5h1M528 161.5h1M529 162.5h1M530 163.5h2M532 164.5h1M533 165.5h1M534 166.5h1M535 167.5h1M536 168.5h1M537 169.5h1M538 170.5h1M539 171.5h1M540 172.5h1M541 173.5h1M542.5 174v2M543 176.5h1M544 177.5h1M545 178.5h1M546 179.5h1M547 180.5h1M548 181.5h1M549 182.5h1M550 183.5h1M551 184.5h1M552 185.5h1M553.5 186v2M554 188.5h1M555 189.5h1M556 190.5h1M557 191.5h1M558 192.5h1M559 193.5h1M560 194.5h1M561.5 195v2M562 197.5h1M563 198.5h1M564 199.5h1M565 200.5h1M566.5 201v2M567 203.5h1M568 204.5h1M569 205.5h1M570.5 206v2M571 208.5h1M572 209.5h1M573.5 210v2M574 212.5h1M575 213.5h1M576.5 214v2M577 216.5h1M578 217.5h1M579 218.5h1M580.5 219v2M581 221.5h1M582 222.5h1M583 223.5h2M585 224.5h1M586 225.5h1M587 226.5h2M589 227.5h1M590 228.5h1M591 229.5h1M592 230.5h2M594 231.5h1M595 232.5h1M596 233.5h1M597 234.5h2M599 235.5h1M600 236.5h1M601 237.5h1M602.5 237v2M603 239.5h1M604 240.5h1M605 241.5h1M606 242.5h1M607 243.5h1M608 244.5h1M609 245.5h1M610 246.5h1M611 247.5h1M612 248.5h2M614 249.5h1M615 250.5h2M617 251.5h2M619 252.5h3M622 253.5h4M626 252.5h3M629 251.5h2M631 250.5h1M632 249.5h1M633 248.5h2M635 247.5h5M640 248.5h8M648 247.5h1M649 246.5h1M650 245.5h1M651 244.5h1M652 243.5h1M653 242.5h1M654 241.5h1M655 240.5h2M657 239.5h2M659 238.5h2M661 237.5h1M662 236.5h4M666 237.5h2M668 238.5h1M669 239.5h2M671 240.5h1M672 241.5h1M673 242.5h1M674 243.5h1M675 244.5h1M676 245.5h1M677 246.5h1M678 247.5h1M679 248.5h2M681 249.5h1M682 250.5h1M683 251.5h1M684 252.5h1M685 253.5h1M686 254.5h1M687 255.5h1M688 256.5h5M693 257.5h5M698 258.5h3M701 259.5h1M702 260.5h1M703 261.5h1M704 262.5h1M705 263.5h1M706 264.5h4M710 265.5h16M726 266.5h2M728 267.5h3M731 268.5h1M732 269.5h1M733 270.5h1M734 271.5h1M735 272.5h1M736 273.5h1M737 274.5h1M738.5 275v2M739.5 277v2M740 279.5h1M741.5 280v2M742.5 282v2M743.5 284v2M744 286.5h1M745.5 287v2M746.5 289v2M747.5 291v2M748.5 293v2M749.5 295v2M750.5 297v2M751.5 299v2M752.5 301v2M753.5 303v2M754.5 305v2M755.5 307v3M756.5 310v3M757.5 313v2M758.5 315v3M759 318.5h1M760.5 319v2M761.5 321v2M762.5 323v2M763.5 325v2M764 327.5h1M765.5 328v2M766.5 330v2M767.5 332v2M768 334.5h1M769.5 335v2M770 337.5h1M771.5 338v2M772.5 340v2M773 342.5h1M774 343.5h1M775 344.5h1M776 345.5h1M777 346.5h1M778 347.5h1M779 348.5h1M780 349.5h9M789 350.5h7M796 349.5h1M797 348.5h2M799 347.5h1M800 346.5h2M802 345.5h1M803 344.5h1M804 343.5h1M805 342.5h2M807 341.5h1M808 340.5h1M809 339.5h1M810 338.5h1M811 337.5h1M812 336.5h1M813.5 334v2M814 333.5h1M815 332.5h1M816 331.5h1M817 330.5h1M818 329.5h1M819 328.5h2M821 327.5h2M823 326.5h1M824 325.5h12M836 326.5h4M840 327.5h3M843 328.5h2M845 327.5h1M846 326.5h2M848 325.5h2M850 324.5h5M855 325.5h1M856 324.5h2M858 323.5h1M859 322.5h1M860 321.5h2M862 320.5h1M863 319.5h1M864 318.5h1M865 317.5h1M866 316.5h1M867 315.5h1M868.5 313v2M869 312.5h1M870 311.5h1M871.5 309v2M872 308.5h1M873 307.5h1M874.5 305v2M875 304.5h1M876 303.5h1M877.5 301v2M878 300.5h1M879 299.5h1M880 298.5h1M881.5 296v2M882.5 294v2M883.5 292v2M884.5 290v2M885 289.5h1M886.5 287v2M887.5 285v2M888.5 283v2M889.5 281v2M890 280.5h1M891.5 278v2M892.5 276v2M893 275.5h1M894.5 273v2M895.5 271v2M896 270.5h1M897 269.5h1M898 268.5h3M901 267.5h11M912 268.5h1M913 269.5h2M915 270.5h2M917 271.5h1M918 272.5h1M919 273.5h1M920 274.5h1M921 275.5h1M922.5 276v2M923.5 278v2M924.5 280v2M925.5 282v3M926 285.5h1M927.5 286v2M928 288.5h1M929 289.5h1M930 290.5h1M931 291.5h1M932 292.5h1M933 293.5h1M934 294.5h2M936 295.5h2M938 296.5h2M940 297.5h1M941 298.5h1M942 299.5h1M943 300.5h1M944 301.5h1M945 302.5h1M946 303.5h1M947 304.5h1M948 305.5h1M949 306.5h1M950 307.5h2M952 308.5h1M953 309.5h5M958 308.5h2M960 309.5h2M962 310.5h1M963 311.5h1M964 312.5h1M965 313.5h1M966 314.5h1M967 315.5h2M969 316.5h1M970 317.5h1M971 318.5h1M972 319.5h2M974 320.5h2M976 321.5h5M981 322.5h1" fill="none" stroke="#000000" stroke-width="1" shape-rendering="crispEdges"/>
<path d="M4 191.5h1M5 190.5h1M6 189.5h1M7 188.5h1M8 187.5h2M10 186.5h1M11 185.5h1M12 184.5h2M14 183.5h1M15 182.5h2M17 181.5h1M18 180.5h2M20 179.5h1M21 178.5h4M25 177.5h4M29 176.5h2M31 175.5h2M33 174.5h2M35 173.5h2M37 172.5h2M39 171.5h2M41 170.5h2M43 169.5h3M46 168.5h2M48 167.5h3M51 166.5h1M52 165.5h1M53 164.5h2M55 163.5h1M56 162.5h1M57 161.5h2M59 160.5h1M60 159.5h1M61 158.5h1M62.5 156v2M63 155.5h1M64 154.5h1M65 153.5h1M66 152.5h1M67 151.5h1M68 150.5h1M69 149.5h1M70 148.5h1M71 147.5h1M72 146.5h1M73 145.5h1M74 144.5h1M75 143.5h1M76 142.5h1M77 141.5h1M78 140.5h1M79 139.5h1M80 138.5h1M81 137.5h1M82 136.5h1M83 135.5h1M84 134.5h1M85 133.5h1M86 132.5h1M87 131.5h1M88 130.5h2M90 129.5h2M92 128.5h2M94 127.5h3M97 126.5h1M98 125.5h2M100 124.5h1M101 123.5h2M103 122.5h1M104 121.5h1M105 120.5h2M107 119.5h1M108 118.5h1M109 117.5h1M110 116.5h1M111 115.5h1M112 114.5h1M113 113.5h1M114 112.5h2M116 111.5h1M117 110.5h1M118 109.5h1M119 108.5h1M120 107.5h2M122 106.5h1M123 105.5h1M124 104.5h1M125 103.5h1M126 102.5h2M128 101.5h1M129 100.5h1M130 99.5h4M134 98.5h12M146 99.5h3M149 100.5h2M151 101.5h1M152 102.5h2M154 103.5h2M156 104.5h2M158 105.5h2M160 106.5h2M162 107.5h2M164 108.5h2M166 109.5h2M168 110.5h2M170 111.5h2M172 112.5h3M175 113.5h3M178 114.5h2M180 115.5h3M183 116.5h2M185 117.5h2M187 118.5h1M188 119.5h1M189 120.5h1M190 121.5h1M191 122.5h1M192 123.5h1M193 124.5h1M194 125.5h1M195 126.5h1M196 127.5h1M197 128.5h1M198 129.5h1M199 130.5h1M200 131.5h1M201.5 132v2M202 134.5h1M203 135.5h1M204 136.5h1M205 137.5h1M206 138.5h1M207.5 139v2M208 141.5h1M209 142.5h1M210 143.5h1M211 144.5h1M212 145.5h1M213 146.5h1M214 147.5h1M215 148.5h1M216 149.5h1M217 150.5h1M218 151.5h1M219 152.5h2M221 153.5h2M223 154.5h2M225 155.5h2M227 156.5h2M229 157.5h2M231 158.5h2M233 159.5h2M235 160.5h2M237 161.5h1M238 162.5h2M240 163.5h1M241 164.5h2M243 165.5h1M244 166.5h1M245 167.5h2M247 168.5h1M248 169.5h1M249 170.5h1M250 171.5h2M252 172.5h1M253 173.5h1M254 174.5h1M255 175.5h2M257 176.5h1M258 177.5h1M259 178.5h1M260 179.5h2M262 180.5h1M263 181.5h2M265 182.5h2M267 183.5h1M268 184.5h2M270 185.5h4M274 186.5h4M278 187.5h4M282 188.5h3M285 189.5h4M289 190.5h3M292 191.5h3M295 192.5h6M301 193.5h6M307 192.5h11M318 193.5h4M322 194.5h3M325 195.5h2M327 196.5h2M329 197.5h2M331 198.5h1M332 199.5h1M333 200.5h2M335 201.5h1M336 202.5h1M337 203.5h1M338 204.5h1M339 205.5h1M340 206.5h1M341 207.5h2M343 208.5h1M344 209.5h1M345 210.5h1M346 211.5h2M348 212.5h1M349 213.5h1M350 214.5h2M352 215.5h1M353 216.5h2M355 217.5h1M356 218.5h3M359 219.5h4M363 220.5h6M369 219.5h7M376 218.5h11M387 219.5h6M393 218.5h6M399 217.5h3M402 216.5h3M405 215.5h2M407 214.5h2M409 213.5h1M410 212.5h1M411 211.5h2M413 210.5h1M414.5 208v2M415 207.5h1M416 206.5h1M417 205.5h1M418.5 203v2M419 202.5h1M420 201.5h1M421 200.5h1M422 199.5h1M423 198.5h1M424 197.5h1M425 196.5h1M426 195.5h1M427 194.5h1M428 193.5h2M430 192.5h1M431 191.5h1M432 190.5h1M433 189.5h1M434 188.5h1M435 187.5h2M437 186.5h1M438 185.5h1M439 184.5h1M440 183.5h2M442 182.5h2M444 181.5h1M445 180.5h2M447 179.5h1M448 178.5h2M450 177.5h2M452 176.5h1M453 175.5h2M455 174.5h2M457 173.5h1M458 172.5h1M459 171.5h1M460 170.5h1M461 169.5h1M462 168.5h1M463 167.5h1M464 166.5h1M465 165.5h1M466 164.5h1M467 163.5h1M468 162.5h2M470 161.5h1M471 160.5h1M472 159.5h1M473 158.5h2M475 157.5h2M477 156.5h2M479 155.5h16M495 154.5h3M498 153.5h3M501 152.5h27M528 153.5h5M533 154.5h1M534 155.5h1M535 156.5h2M537 157.5h1M538 158.5h1M539 159.5h1M540 160.5h1M541 161.5h1M542 162.5h1M543 163.5h1M544 164.5h1M545 165.5h1M546 166.5h1M547 167.5h1M548 168.5h1M549 169.5h1M550 170.5h1M551 171.5h1M552 172.5h1M553.5 173v2M554 175.5h1M555 176.5h1M556 177.5h1M557 178.5h1M558 179.5h1M559 180.5h1M560 181.5h1M561 182.5h1M562 183.5h1M563 184.5h1M564 185.5h1M565 186.5h1M566 187.5h1M567 188.5h1M568 189.5h1M569 190.5h1M570.5 191v2M571 193.5h1M572 194.5h1M573 195.5h1M574 196.5h1M575 197.5h1M576 198.5h1M577 199.5h1M578 200.5h1M579 201.5h2M581 202.5h1M582 203.5h1M583 204.5h2M585 205.5h1M586 206.5h1M587 207.5h2M589 208.5h1M590 209.5h1M591 210.5h1M592 211.5h2M594.5 212v2M595 214.5h1M596 215.5h1M597 216.5h1M598.5 217v2M599 219.5h1M600 220.5h1M601 221.5h1M602.5 222v2M603 224.5h1M604 225.5h1M605 226.5h1M606.5 227v2M607 229.5h1M608 230.5h1M609.5 231v2M610 233.5h1M611 234.5h2M613 235.5h1M614 236.5h1M615 237.5h1M616 238.5h1M617 239.5h2M619 240.5h2M621 241.5h2M623 242.5h2M625 243.5h2M627 242.5h21M648 243.5h2M650 242.5h6M656 241.5h3M659 242.5h6M665 243.5h1M666 244.5h1M667 245.5h1M668 246.5h1M669 247.5h1M670 248.5h2M672 249.5h1M673 250.5h2M675 251.5h1M676 252.5h4M680 253.5h7M687 252.5h3M690 251.5h1M691 250.5h2M693 249.5h1M694 248.5h12M706 249.5h4M710 250.5h2M712 251.5h1M713 252.5h2M715 253.5h2M717 254.5h1M718 255.5h1M719 256.5h2M721 257.5h1M722 258.5h1M723 259.5h1M724 260.5h1M725 261.5h1M726 262.5h1M727 263.5h1M728 264.5h1M729 265.5h1M730 266.5h1M731 267.5h1M732 268.5h1M733.5 269v2M734 271.5h1M735 272.5h1M736 273.5h1M737 274.5h1M738 275.5h1M739.5 276v2M740 278.5h1M741 279.5h1M742 280.5h1M743 281.5h1M744 282.5h1M745 283.5h1M746 284.5h1M747 285.5h1M748 286.5h1M749 287.5h1M750 288.5h1M751 289.5h1M752 290.5h2M754 291.5h1M755 292.5h1M756 293.5h1M757 294.5h1M758 295.5h1M759 296.5h1M760 297.5h1M761 298.5h1M762 299.5h1M763 300.5h1M764 301.5h1M765 302.5h1M766 303.5h1M767 304.5h1M768.5 305v2M769 307.5h1M770 308.5h1M771.5 309v2M772 311.5h1M773 312.5h1M774 313.5h1M775.5 314v2M776 316.5h1M777 317.5h1M778 318.5h1M779 319.5h1M780 320.5h1M781 321.5h1M782 322.5h1M783 323.5h1M784 324.5h1M785 325.5h1M786 326.5h1M787 327.5h1M788 328.5h2M790 329.5h1M791 330.5h1M792 331.5h1M793 332.5h2M795 333.5h1M796 334.5h1M797 335.5h2M799 336.5h2M801 337.5h1M802 338.5h3M805 339.5h5M810 340.5h1M811 339.5h4M815 338.5h4M819 337.5h2M821 336.5h13M834 335.5h9M843 334.5h2M845 333.5h1M846 332.5h1M847 331.5h2M849 330.5h2M851 329.5h3M854 328.5h2M856 327.5h1M857 326.5h1M858 325.5h1M859 324.5h1M860 323.5h1M861 322.5h1M862 321.5h1M863 320.5h1M864 319.5h1M865.5 317v2M866 316.5h1M867 315.5h1M868 314.5h1M869 313.5h1M870.5 311v2M871 310.5h1M872 309.5h1M873 308.5h1M874 307.5h2M876 306.5h1M877 305.5h2M879 304.5h1M880 303.5h2M882 302.5h2M884 301.5h2M886 300.5h2M888 299.5h2M890 298.5h1M891 297.5h1M892 296.5h2M894 295.5h1M895 294.5h1M896 293.5h2M898 292.5h9M907 291.5h2M909 290.5h2M911 289.5h2M913 288.5h2M915 287.5h3M918 286.5h3M921 285.5h4M925 284.5h11M936 283.5h6M942 284.5h2M944 285.5h2M946 286.5h3M949 287.5h1M950 288.5h2M952 289.5h1M953 290.5h1M954 291.5h2M956 292.5h1M957 293.5h2M959 294.5h2M961 295.5h1M962 296.5h1M963 297.5h1M964 298.5h1M965 299.5h1M966 300.5h1M967.5 301v2M968 303.5h1M969 304.5h1M970 305.5h1M971.5 306v2M972 308.5h1M973 309.5h1M974 310.5h1M975 311.5h1M976 312.5h1M977 313.5h1M978 314.5h1M979 315.5h1M980 316.5h1M981 317.5h1" fill="none" stroke="#000099" stroke-width="1" shape-rendering="crispEdges"/>
<path d="M4 196.5h1M5 195.5h1M6 194.5h2M8 193.5h2M10 192.5h1M11 191.5h2M13 190.5h2M15 189.5h1M16 188.5h3M19 187.5h2M21 186.5h2M23 185.5h3M26 184.5h2M28 183.5h2M30 182.5h2M32 181.5h3M35 180.5h2M37 179.5h2M39 178.5h3M42 177.5h2M44 176.5h2M46 175.5h2M48 174.5h2M50 173.5h2M52 172.5h3M55 171.5h2M57 170.5h3M60 169.5h3M63 168.5h2M65 167.5h1M66 166.5h1M67 165.5h1M68 164.5h1M69 163.5h2M71 162.5h1M72 161.5h1M73 160.5h1M74 159.5h1M75 158.5h1M76 157.5h1M77 156.5h1M78 155.5h1M79 154.5h1M80 153.5h1M81 152.5h1M82 151.5h1M83 150.5h2M85 149.5h1M86 148.5h1M87 147.5h1M88 146.5h1M89 145.5h1M90 144.5h1M91 143.5h1M92 142.5h1M93 141.5h1M94.5 139v2M95 138.5h1M96 137.5h1M97 136.5h1M98 135.5h1M99 134.5h1M100 133.5h2M102 132.5h1M103 131.5h2M105 130.5h1M106 129.5h2M108 128.5h1M109 127.5h1M110 126.5h2M112 125.5h1M113 124.5h2M115 123.5h1M116 122.5h2M118 121.5h2M120 120.5h2M122 119.5h2M124 118.5h2M126 117.5h3M129 116.5h8M137 115.5h7M144 114.5h5M149 113.5h5M154 112.5h5M159 111.5h5M164 110.5h4M168 109.5h3M171 108.5h12M183 109.5h4M187 110.5h2M189 111.5h2M191 112.5h2M193 113.5h2M195 114.5h1M196 115.5h1M197 116.5h1M198 117.5h1M199 118.5h1M200 119.5h2M202 120.5h1M203 121.5h1M204 122.5h1M205 123.5h1M206 124.5h1M207 125.5h1M208 126.5h1M209 127.5h1M210 128.5h1M211 129.5h1M212 130.5h1M213 131.5h1M214 132.5h2M216 133.5h1M217 134.5h1M218 135.5h1M219 136.5h2M221 137.5h1M222 138.5h1M223 139.5h2M225 140.5h1M226 141.5h2M228 142.5h1M229 143.5h1M230 144.5h2M232 145.5h1M233 146.5h1M234 147.5h1M235 148.5h2M237 149.5h1M238 150.5h1M239 151.5h1M240 152.5h1M241 153.5h1M242 154.5h1M243 155.5h1M244 156.5h1M245 157.5h2M247 158.5h2M249 159.5h1M250 160.5h2M252 161.5h2M254 162.5h2M256 163.5h2M258 164.5h2M260 165.5h2M262 166.5h4M266 167.5h5M271 168.5h2M273 169.5h2M275 170.5h2M277 171.5h2M279 172.5h1M280 173.5h1M281 174.5h2M283 175.5h1M284 176.5h1M285 177.5h1M286 178.5h2M288 179.5h1M289 180.5h2M291 181.5h1M292 182.5h1M293 183.5h2M295 184.5h1M296 185.5h2M298 186.5h2M300 187.5h2M302 188.5h3M305 189.5h2M307 190.5h3M310 191.5h8M318 192.5h5M323 193.5h2M325 194.5h3M328 195.5h2M330 196.5h2M332 197.5h2M334 198.5h2M336 199.5h2M338 200.5h2M340 201.5h2M342 202.5h2M344 203.5h2M346 204.5h2M348 205.5h2M350 206.5h2M352 207.5h2M354 208.5h2M356 209.5h6M362 210.5h7M369 211.5h7M376 212.5h5M381 213.5h15M396 212.5h4M400 211.5h3M403 210.5h2M405 209.5h3M408 208.5h3M411 207.5h3M414 206.5h3M417 205.5h4M421 204.5h7M428 203.5h8M436 202.5h4M440 201.5h2M442 200.5h1M443 199.5h3M446 198.5h2M448 197.5h1M449 196.5h1M450 195.5h1M451 194.5h1M452 193.5h2M454 192.5h1M455 191.5h1M456.5 189v2M457 188.5h1M458.5 186v2M459 185.5h1M460 184.5h1M461 183.5h1M462 182.5h1M463 181.5h1M464 180.5h1M465 179.5h1M466 178.5h1M467 177.5h2M469 176.5h1M470 175.5h1M471 174.5h1M472 173.5h1M473 172.5h2M475 171.5h1M476 170.5h2M478 169.5h1M479 168.5h2M481 167.5h2M483 166.5h2M485 165.5h3M488 164.5h3M491 163.5h3M494 162.5h2M496 161.5h2M498 160.5h3M501 159.5h3M504 158.5h6M510 157.5h24M534 158.5h3M537 159.5h4M541 160.5h3M544 161.5h2M546 162.5h2M548 163.5h2M550 164.5h2M552 165.5h2M554 166.5h2M556 167.5h2M558 168.5h2M560 169.5h2M562 170.5h2M564 171.5h2M566 172.5h1M567 173.5h2M569 174.5h1M570 175.5h1M571 176.5h1M572 177.5h1M573 178.5h1M574 179.5h2M576 180.5h1M577 181.5h1M578 182.5h1M579 183.5h2M581 184.5h1M582 185.5h1M583 186.5h1M584 187.5h2M586 188.5h1M587 189.5h1M588 190.5h1M589 191.5h1M590 192.5h1M591 193.5h1M592 194.5h1M593 195.5h1M594 196.5h1M595 197.5h1M596 198.5h1M597 199.5h1M598 200.5h1M599 201.5h1M600 202.5h1M601 203.5h1M602 204.5h1M603 205.5h1M604 206.5h1M605 207.5h1M606 208.5h1M607 209.5h1M608 210.5h1M609 211.5h1M610 212.5h2M612 213.5h1M613 214.5h1M614 215.5h1M615 216.5h1M616 217.5h1M617 218.5h1M618 219.5h2M620 220.5h1M621 221.5h1M622 222.5h2M624 223.5h1M625 224.5h2M627 225.5h1M628 226.5h2M630 227.5h2M632 228.5h3M635 229.5h2M637 230.5h3M640 231.5h2M642 232.5h3M645 233.5h2M647 234.5h3M650 235.5h2M652 236.5h3M655 237.5h3M658 238.5h3M661 239.5h3M664 240.5h1M665 241.5h2M667 242.5h2M669 243.5h1M670 244.5h2M672 245.5h2M674 246.5h2M676 247.5h2M678 248.5h1M679 249.5h2M681 250.5h3M684 251.5h7M691 250.5h12M703 251.5h3M706 252.5h3M709 253.5h5M714 254.5h8M722 255.5h8M730 256.5h2M732 257.5h2M734 258.5h1M735 259.5h2M737 260.5h2M739 261.5h1M740 262.5h1M741 263.5h1M742 264.5h2M744 265.5h1M745 266.5h1M746 267.5h1M747 268.5h1M748 269.5h1M749.5 270v2M750 272.5h1M751 273.5h1M752.5 274v2M753 276.5h1M754 277.5h1M755 278.5h1M756 279.5h1M757 280.5h1M758.5 281v2M759 283.5h1M760 284.5h1M761 285.5h1M762 286.5h1M763 287.5h1M764 288.5h1M765 289.5h1M766 290.5h1M767.5 291v2M768 293.5h1M769 294.5h1M770 295.5h1M771 296.5h1M772 297.5h1M773 298.5h1M774 299.5h1M775 300.5h1M776 301.5h1M777 302.5h1M778 303.5h1M779 304.5h1M780 305.5h2M782 306.5h3M785 307.5h3M788 308.5h2M790 309.5h3M793 310.5h3M796 311.5h3M799 312.5h3M802 313.5h4M806 314.5h1M807 315.5h2M809 316.5h2M811 317.5h2M813 318.5h2M815 319.5h2M817 320.5h2M819 321.5h2M821 322.5h2M823 323.5h1M824 324.5h1M825 325.5h2M827 326.5h1M828 327.5h2M830 328.5h1M831 329.5h2M833 330.5h1M834 331.5h1M835 332.5h2M837 333.5h1M838 334.5h2M840 335.5h2M842 336.5h4M846 337.5h6M852 336.5h4M856 335.5h2M858 334.5h1M859 333.5h2M861 332.5h2M863 331.5h1M864 330.5h2M866 329.5h1M867 328.5h1M868 327.5h1M869 326.5h1M870 325.5h1M871 324.5h1M872 323.5h1M873 322.5h1M874 321.5h1M875 320.5h2M877 319.5h1M878 318.5h1M879 317.5h1M880 316.5h1M881 315.5h1M882 314.5h1M883 313.5h1M884 312.5h1M885 311.5h2M887 310.5h1M888 309.5h1M889 308.5h1M890 307.5h1M891 306.5h2M893 305.5h1M894 304.5h2M896 303.5h1M897 302.5h1M898 301.5h3M901 300.5h3M904 299.5h4M908 298.5h4M912 297.5h29M941 296.5h6M947 295.5h2M949 294.5h3M952 293.5h2M954 292.5h14M968 293.5h4M972 294.5h2M974 295.5h3M977 296.5h2M979 297.5h2M981 298.5h1" fill="none" stroke="#FF00FF" stroke-width="1" shape-rendering="crispEdges"/>
<path d="M4 218.5h2M6 217.5h2M8 216.5h3M11 215.5h2M13 214.5h3M16 213.5h2M18 212.5h3M21 211.5h3M24 210.5h4M28 209.5h3M31 208.5h3M34 207.5h3M37 206.5h3M40 205.5h3M43 204.5h3M46 203.5h2M48 202.5h3M51 201.5h3M54 200.5h2M56 199.5h3M59 198.5h2M61 197.5h3M64 196.5h2M66 195.5h2M68 194.5h2M70 193.5h2M72 192.5h2M74 191.5h2M76 190.5h2M78 189.5h2M80 188.5h2M82 187.5h2M84 186.5h3M87 185.5h3M90 184.5h3M93 183.5h3M96 182.5h3M99 181.5h3M102 180.5h3M105 179.5h2M107 178.5h2M109 177.5h2M111 176.5h2M113 175.5h2M115 174.5h2M117 173.5h2M119 172.5h2M121 171.5h1M122 170.5h2M124 169.5h1M125 168.5h2M127 167.5h2M129 166.5h1M130 165.5h2M132 164.5h1M133 163.5h3M136 162.5h4M140 161.5h4M144 160.5h4M148 159.5h5M153 158.5h5M158 157.5h4M162 156.5h5M167 155.5h4M171 154.5h4M175 153.5h3M178 152.5h4M182 151.5h3M185 150.5h8M193 149.5h10M203 148.5h13M216 147.5h19M235 146.5h8M243 147.5h14M257 146.5h35M292 147.5h5M297 148.5h5M302 149.5h11M313 150.5h6M319 151.5h5M324 152.5h4M328 153.5h3M331 154.5h3M334 155.5h3M337 156.5h2M339 157.5h4M343 158.5h3M346 159.5h4M350 160.5h3M353 161.5h4M357 162.5h2M359 163.5h3M362 164.5h2M364 165.5h3M367 166.5h2M369 167.5h3M372 168.5h2M374 169.5h3M377 170.5h2M379 171.5h3M382 172.5h3M385 173.5h2M387 174.5h3M390 175.5h7M397 176.5h4M401 177.5h4M405 178.5h3M408 179.5h3M411 180.5h3M414 181.5h4M418 182.5h4M422 183.5h6M428 184.5h6M434 185.5h5M439 186.5h16M455 187.5h43M498 186.5h14M512 185.5h11M523 184.5h16M539 185.5h11M550 186.5h8M558 187.5h6M564 188.5h6M570 189.5h5M575 190.5h11M586 191.5h9M595 192.5h4M599 193.5h4M603 194.5h3M606 195.5h4M610 196.5h5M615 197.5h5M620 198.5h5M625 199.5h5M630 198.5h5M635 197.5h5M640 196.5h23M663 197.5h3M666 198.5h3M669 199.5h3M672 200.5h3M675 201.5h4M679 202.5h6M685 203.5h4M689 204.5h4M693 205.5h4M697 206.5h4M701 207.5h3M704 208.5h3M707 209.5h3M710 210.5h3M713 211.5h3M716 212.5h3M719 213.5h3M722 214.5h3M725 215.5h2M727 216.5h2M729 217.5h3M732 218.5h2M734 219.5h2M736 220.5h2M738 221.5h2M740 222.5h1M741 223.5h2M743 224.5h2M745 225.5h2M747 226.5h1M748 227.5h1M749 228.5h2M751 229.5h1M752 230.5h1M753 231.5h2M755 232.5h1M756 233.5h2M758 234.5h1M759 235.5h1M760 236.5h2M762 237.5h1M763 238.5h2M765 239.5h1M766 240.5h1M767 241.5h1M768 242.5h2M770 243.5h1M771 244.5h1M772 245.5h1M773 246.5h2M775 247.5h1M776 248.5h2M778 249.5h1M779 250.5h2M781 251.5h1M782 252.5h2M784 253.5h2M786 254.5h1M787 255.5h2M789 256.5h2M791 257.5h2M793 258.5h2M795 259.5h2M797 260.5h2M799 261.5h2M801 262.5h2M803 263.5h2M805 264.5h2M807 265.5h2M809 266.5h2M811 267.5h2M813 268.5h2M815 269.5h2M817 270.5h2M819 271.5h2M821 272.5h2M823 273.5h1M824 274.5h2M826 275.5h2M828 276.5h1M829 277.5h2M831 278.5h2M833 279.5h1M834 280.5h2M836 281.5h2M838 282.5h2M840 283.5h3M843 284.5h3M846 285.5h3M849 286.5h3M852 287.5h4M856 288.5h7M863 289.5h16M879 290.5h13M892 291.5h17M909 292.5h5M914 293.5h5M919 294.5h5M924 295.5h4M928 296.5h5M933 297.5h4M937 298.5h5M942 299.5h4M946 300.5h5M951 301.5h4M955 302.5h4M959 303.5h4M963 304.5h4M967 305.5h4M971 306.5h4M975 307.5h5M980 308.5h2" fill="none" stroke="#FF8000" stroke-width="1" shape-rendering="crispEdges"/>
<path d="M4 223.5h14M18 222.5h18M36 221.5h14M50 220.5h10M60 219.5h10M70 218.5h10M80 217.5h8M88 216.5h9M97 215.5h7M104 214.5h6M110 213.5h7M117 212.5h6M123 211.5h5M128 210.5h6M134 209.5h5M139 208.5h6M145 207.5h5M150 206.5h9M159 205.5h8M167 204.5h5M172 203.5h4M176 202.5h3M179 201.5h3M182 200.5h4M186 199.5h4M190 198.5h5M195 197.5h5M200 196.5h5M205 195.5h5M210 194.5h5M215 193.5h5M220 192.5h10M230 191.5h10M240 190.5h10M250 189.5h9M259 188.5h8M267 187.5h8M275 186.5h8M283 185.5h9M292 184.5h10M302 183.5h10M312 182.5h11M323 181.5h33M356 180.5h19M375 179.5h20M395 178.5h16M411 177.5h10M421 176.5h8M429 175.5h8M437 174.5h8M445 173.5h8M453 172.5h8M461 171.5h8M469 170.5h9M478 169.5h10M488 168.5h11M499 167.5h16M515 166.5h33M548 167.5h24M572 168.5h13M585 169.5h10M595 170.5h4M599 171.5h5M604 172.5h4M608 173.5h7M615 174.5h8M623 175.5h9M632 176.5h10M642 177.5h7M649 178.5h5M654 179.5h6M660 180.5h4M664 181.5h5M669 182.5h3M672 183.5h3M675 184.5h3M678 185.5h3M681 186.5h2M683 187.5h3M686 188.5h3M689 189.5h4M693 190.5h3M696 191.5h3M699 192.5h4M703 193.5h4M707 194.5h5M712 195.5h4M716 196.5h5M721 197.5h2M723 198.5h3M726 199.5h2M728 200.5h3M731 201.5h2M733 202.5h3M736 203.5h2M738 204.5h3M741 205.5h3M744 206.5h3M747 207.5h3M750 208.5h2M752 209.5h3M755 210.5h3M758 211.5h3M761 212.5h2M763 213.5h3M766 214.5h3M769 215.5h3M772 216.5h3M775 217.5h3M778 218.5h3M781 219.5h3M784 220.5h3M787 221.5h3M790 222.5h4M794 223.5h4M798 224.5h4M802 225.5h5M807 226.5h6M813 227.5h6M819 228.5h4M823 229.5h3M826 230.5h3M829 231.5h4M833 232.5h3M836 233.5h4M840 234.5h4M844 235.5h5M849 236.5h6M855 237.5h7M862 238.5h6M868 239.5h8M876 240.5h20M896 241.5h8M904 242.5h3M907 243.5h4M911 244.5h4M915 245.5h5M920 246.5h5M925 247.5h6M931 248.5h12M943 249.5h9M952 250.5h6M958 251.5h6M964 252.5h6M970 253.5h5M975 254.5h5M980 255.5h2" fill="none" stroke="#757575" stroke-width="1" shape-rendering="crispEdges"/>
<path d="M4 199.5h5M9 198.5h6M15 197.5h6M21 196.5h7M28 195.5h6M34 194.5h7M41 193.5h6M47 192.5h7M54 191.5h6M60 190.5h7M67 189.5h6M73 188.5h7M80 187.5h6M86 186.5h7M93 185.5h6M99 184.5h6M105 183.5h6M111 182.5h7M118 181.5h6M124 180.5h9M133 179.5h9M142 178.5h10M152 177.5h10M162 176.5h10M172 175.5h11M183 174.5h54M237 175.5h42M279 176.5h31M310 177.5h24M334 178.5h21M355 179.5h17M372 180.5h17M389 181.5h16M405 182.5h11M416 183.5h9M425 184.5h9M434 185.5h10M444 186.5h16M460 187.5h14M474 188.5h15M489 189.5h13M502 190.5h37M539 191.5h12M551 192.5h8M559 193.5h8M567 194.5h8M575 195.5h8M583 196.5h8M591 197.5h8M599 198.5h8M607 199.5h11M618 200.5h15M633 201.5h17M650 202.5h21M671 203.5h22M693 204.5h18M711 205.5h16M727 206.5h14M741 207.5h10M751 208.5h10M761 209.5h10M771 210.5h43M814 211.5h28M842 212.5h31M873 213.5h48M921 214.5h14M935 215.5h24M959 216.5h14M973 217.5h9" fill="none" stroke="#CC3838" stroke-width="1" shape-rendering="crispEdges"/>
<g shape-rendering="crispEdges"><rect x="4" y="491" width="1" height="13" fill="#D23C32"/><rect x="10" y="484" width="1" height="20" fill="#D23C32"/><rect x="16" y="481" width="1" height="23" fill="#D23C32"/><rect x="22" y="485" width="1" height="19" fill="#D23C32"/><rect x="28" y="491" width="1" height="13" fill="#D23C32"/><rect x="34" y="496" width="1" height="8" fill="#D23C32"/><rect x="40" y="496" width="1" height="8" fill="#D23C32"/><rect x="46" y="500" width="1" height="4" fill="#D23C32"/><rect x="52" y="502" width="1" height="2" fill="#D23C32"/><rect x="58" y="498" width="1" height="6" fill="#D23C32"/><rect x="64" y="494" width="1" height="10" fill="#D23C32"/><rect x="70" y="486" width="1" height="18" fill="#D23C32"/><rect x="76" y="482" width="1" height="22" fill="#D23C32"/><rect x="82" y="475" width="1" height="29" fill="#D23C32"/><rect x="88" y="474" width="1" height="30" fill="#D23C32"/><rect x="94" y="477" width="1" height="27" fill="#D23C32"/><rect x="100" y="485" width="1" height="19" fill="#D23C32"/><rect x="106" y="488" width="1" height="16" fill="#D23C32"/><rect x="112" y="493" width="1" height="11" fill="#D23C32"/><rect x="118" y="499" width="1" height="5" fill="#D23C32"/><rect x="124" y="502" width="1" height="2" fill="#D23C32"/><rect x="130" y="503" width="1" height="3" fill="#5CA55C"/><rect x="136" y="503" width="1" height="17" fill="#5CA55C"/><rect x="142" y="503" width="1" height="29" fill="#5CA55C"/><rect x="148" y="503" width="1" height="37" fill="#5CA55C"/><rect x="154" y="503" width="1" height="41" fill="#5CA55C"/><rect x="160" y="503" width="1" height="39" fill="#5CA55C"/><rect x="166" y="503" width="1" height="37" fill="#5CA55C"/><rect x="172" y="503" width="1" height="31" fill="#5CA55C"/><rect x="178" y="503" width="1" height="26" fill="#5CA55C"/><rect x="184" y="503" width="1" height="25" fill="#5CA55C"/><rect x="190" y="503" width="1" height="29" fill="#5CA55C"/><rect x="196" y="503" width="1" height="39" fill="#5CA55C"/><rect x="202" y="503" width="1" height="43" fill="#5CA55C"/><rect x="208" y="503" width="1" height="47" fill="#5CA55C"/><rect x="214" y="503" width="1" height="44" fill="#5CA55C"/><rect x="220" y="503" width="1" height="42" fill="#5CA55C"/><rect x="226" y="503" width="1" height="37" fill="#5CA55C"/><rect x="232" y="503" width="1" height="29" fill="#5CA55C"/><rect x="238" y="503" width="1" height="28" fill="#5CA55C"/><rect x="244" y="503" width="1" height="21" fill="#5CA55C"/><rect x="250" y="503" width="1" height="20" fill="#5CA55C"/><rect x="256" y="503" width="1" height="17" fill="#5CA55C"/><rect x="262" y="503" width="1" height="12" fill="#5CA55C"/><rect x="268" y="503" width="1" height="5" fill="#5CA55C"/><rect x="274" y="503" width="1" height="2" fill="#5CA55C"/><rect x="280" y="503" width="1" height="4" fill="#5CA55C"/><rect x="286" y="503" width="1" height="8" fill="#5CA55C"/><rect x="292" y="503" width="1" height="11" fill="#5CA55C"/><rect x="298" y="503" width="1" height="9" fill="#5CA55C"/><rect x="304" y="503" width="1" height="3" fill="#5CA55C"/><rect x="310" y="495" width="1" height="9" fill="#D23C32"/><rect x="316" y="492" width="1" height="12" fill="#D23C32"/><rect x="322" y="496" width="1" height="8" fill="#D23C32"/><rect x="328" y="500" width="1" height="4" fill="#D23C32"/><rect x="334" y="503" width="1" height="13" fill="#5CA55C"/><rect x="340" y="503" width="1" height="26" fill="#5CA55C"/><rect x="346" y="503" width="1" height="25" fill="#5CA55C"/><rect x="352" y="503" width="1" height="18" fill="#5CA55C"/><rect x="358" y="503" width="1" height="14" fill="#5CA55C"/><rect x="364" y="502" width="1" height="2" fill="#D23C32"/><rect x="370" y="492" width="1" height="12" fill="#D23C32"/><rect x="376" y="484" width="1" height="20" fill="#D23C32"/><rect x="382" y="481" width="1" height="23" fill="#D23C32"/><rect x="388" y="480" width="1" height="24" fill="#D23C32"/><rect x="394" y="474" width="1" height="30" fill="#D23C32"/><rect x="400" y="467" width="1" height="37" fill="#D23C32"/><rect x="406" y="465" width="1" height="39" fill="#D23C32"/><rect x="412" y="464" width="1" height="40" fill="#D23C32"/><rect x="418" y="468" width="1" height="36" fill="#D23C32"/><rect x="424" y="468" width="1" height="36" fill="#D23C32"/><rect x="430" y="474" width="1" height="30" fill="#D23C32"/><rect x="436" y="478" width="1" height="26" fill="#D23C32"/><rect x="442" y="478" width="1" height="26" fill="#D23C32"/><rect x="448" y="482" width="1" height="22" fill="#D23C32"/><rect x="454" y="478" width="1" height="26" fill="#D23C32"/><rect x="460" y="478" width="1" height="26" fill="#D23C32"/><rect x="466" y="477" width="1" height="27" fill="#D23C32"/><rect x="472" y="477" width="1" height="27" fill="#D23C32"/><rect x="478" y="481" width="1" height="23" fill="#D23C32"/><rect x="484" y="490" width="1" height="14" fill="#D23C32"/><rect x="490" y="499" width="1" height="5" fill="#D23C32"/><rect x="496" y="503" width="1" height="2" fill="#5CA55C"/><rect x="502" y="503" width="1" height="5" fill="#5CA55C"/><rect x="508" y="503" width="1" height="8" fill="#5CA55C"/><rect x="514" y="503" width="1" height="12" fill="#5CA55C"/><rect x="520" y="503" width="1" height="18" fill="#5CA55C"/><rect x="526" y="503" width="1" height="17" fill="#5CA55C"/><rect x="532" y="503" width="1" height="16" fill="#5CA55C"/><rect x="538" y="503" width="1" height="29" fill="#5CA55C"/><rect x="544" y="503" width="1" height="36" fill="#5CA55C"/><rect x="550" y="503" width="1" height="42" fill="#5CA55C"/><rect x="556" y="503" width="1" height="44" fill="#5CA55C"/><rect x="562" y="503" width="1" height="39" fill="#5CA55C"/><rect x="568" y="503" width="1" height="40" fill="#5CA55C"/><rect x="574" y="503" width="1" height="41" fill="#5CA55C"/><rect x="580" y="503" width="1" height="43" fill="#5CA55C"/><rect x="586" y="503" width="1" height="29" fill="#5CA55C"/><rect x="592" y="503" width="1" height="24" fill="#5CA55C"/><rect x="598" y="503" width="1" height="29" fill="#5CA55C"/><rect x="604" y="503" width="1" height="32" fill="#5CA55C"/><rect x="610" y="503" width="1" height="36" fill="#5CA55C"/><rect x="616" y="503" width="1" height="26" fill="#5CA55C"/><rect x="622" y="503" width="1" height="16" fill="#5CA55C"/><rect x="628" y="503" width="1" height="7" fill="#5CA55C"/><rect x="634" y="491" width="1" height="13" fill="#D23C32"/><rect x="640" y="484" width="1" height="20" fill="#D23C32"/><rect x="646" y="484" width="1" height="20" fill="#D23C32"/><rect x="652" y="481" width="1" height="23" fill="#D23C32"/><rect x="658" y="484" width="1" height="20" fill="#D23C32"/><rect x="664" y="494" width="1" height="10" fill="#D23C32"/><rect x="670" y="503" width="1" height="3" fill="#5CA55C"/><rect x="676" y="503" width="1" height="13" fill="#5CA55C"/><rect x="682" y="503" width="1" height="15" fill="#5CA55C"/><rect x="688" y="503" width="1" height="7" fill="#5CA55C"/><rect x="694" y="496" width="1" height="8" fill="#D23C32"/><rect x="700" y="492" width="1" height="12" fill="#D23C32"/><rect x="706" y="496" width="1" height="8" fill="#D23C32"/><rect x="712" y="493" width="1" height="11" fill="#D23C32"/><rect x="718" y="498" width="1" height="6" fill="#D23C32"/><rect x="724" y="499" width="1" height="5" fill="#D23C32"/><rect x="730" y="503" width="1" height="12" fill="#5CA55C"/><rect x="736" y="503" width="1" height="24" fill="#5CA55C"/><rect x="742" y="503" width="1" height="29" fill="#5CA55C"/><rect x="748" y="503" width="1" height="35" fill="#5CA55C"/><rect x="754" y="503" width="1" height="35" fill="#5CA55C"/><rect x="760" y="503" width="1" height="41" fill="#5CA55C"/><rect x="766" y="503" width="1" height="38" fill="#5CA55C"/><rect x="772" y="503" width="1" height="27" fill="#5CA55C"/><rect x="778" y="503" width="1" height="20" fill="#5CA55C"/><rect x="784" y="503" width="1" height="11" fill="#5CA55C"/><rect x="790" y="502" width="1" height="2" fill="#D23C32"/><rect x="796" y="498" width="1" height="6" fill="#D23C32"/><rect x="802" y="485" width="1" height="19" fill="#D23C32"/><rect x="808" y="477" width="1" height="27" fill="#D23C32"/><rect x="814" y="474" width="1" height="30" fill="#D23C32"/><rect x="820" y="469" width="1" height="35" fill="#D23C32"/><rect x="826" y="473" width="1" height="31" fill="#D23C32"/><rect x="832" y="485" width="1" height="19" fill="#D23C32"/><rect x="838" y="490" width="1" height="14" fill="#D23C32"/><rect x="844" y="494" width="1" height="10" fill="#D23C32"/><rect x="850" y="486" width="1" height="18" fill="#D23C32"/><rect x="856" y="480" width="1" height="24" fill="#D23C32"/><rect x="862" y="466" width="1" height="38" fill="#D23C32"/><rect x="868" y="456" width="1" height="48" fill="#D23C32"/><rect x="874" y="442" width="1" height="62" fill="#D23C32"/><rect x="880" y="448" width="1" height="56" fill="#D23C32"/><rect x="886" y="458" width="1" height="46" fill="#D23C32"/><rect x="892" y="458" width="1" height="46" fill="#D23C32"/><rect x="898" y="460" width="1" height="44" fill="#D23C32"/><rect x="904" y="478" width="1" height="26" fill="#D23C32"/><rect x="910" y="494" width="1" height="10" fill="#D23C32"/><rect x="916" y="503" width="1" height="3" fill="#5CA55C"/><rect x="922" y="503" width="1" height="10" fill="#5CA55C"/><rect x="928" y="503" width="1" height="19" fill="#5CA55C"/><rect x="934" y="503" width="1" height="21" fill="#5CA55C"/><rect x="940" y="503" width="1" height="14" fill="#5CA55C"/><rect x="946" y="503" width="1" height="11" fill="#5CA55C"/><rect x="952" y="503" width="1" height="11" fill="#5CA55C"/><rect x="958" y="503" width="1" height="5" fill="#5CA55C"/><rect x="964" y="503" width="1" height="17" fill="#5CA55C"/><rect x="970" y="503" width="1" height="28" fill="#5CA55C"/><rect x="976" y="503" width="1" height="27" fill="#5CA55C"/><rect x="982" y="503" width="1" height="25" fill="#5CA55C"/></g>
<path d="M4 476.5h1M5.5 474v2M6 473.5h1M7 472.5h1M8 471.5h1M9.5 469v2M10 468.5h1M11 467.5h4M15 466.5h3M18 465.5h6M24 466.5h3M27 467.5h3M30 468.5h10M40 467.5h1M41 468.5h6M47 469.5h6M53 470.5h1M54 469.5h2M56 468.5h2M58 467.5h2M60 466.5h2M62 465.5h1M63 464.5h1M64 463.5h1M65 462.5h1M66 461.5h1M67 460.5h1M68 459.5h1M69 458.5h1M70 457.5h1M71 456.5h1M72 455.5h2M74 454.5h1M75 453.5h1M76 452.5h1M77 451.5h1M78 450.5h2M80 449.5h1M81 448.5h1M82 447.5h1M83 446.5h1M84 445.5h1M85 444.5h1M86 443.5h2M88 442.5h5M93 441.5h8M101 442.5h7M108 443.5h5M113 444.5h4M117 445.5h4M121 446.5h3M124 447.5h4M128 448.5h2M130.5 449v2M131 451.5h1M132.5 452v2M133 454.5h1M134.5 455v2M135 457.5h1M136.5 458v2M137 460.5h1M138.5 461v2M139 463.5h1M140.5 464v2M141 466.5h1M142.5 467v2M143 469.5h1M144.5 470v2M145 472.5h1M146 473.5h1M147 474.5h1M148.5 475v2M149 477.5h1M150 478.5h1M151 479.5h1M152.5 480v2M153 482.5h1M154 483.5h1M155 484.5h2M157 485.5h2M159 486.5h2M161 487.5h2M163 488.5h1M164 489.5h3M167 490.5h9M176 491.5h4M180 492.5h2M182 493.5h2M184 494.5h1M185 495.5h2M187 496.5h2M189 497.5h1M190 498.5h1M191.5 499v2M192.5 501v2M193.5 503v2M194.5 505v2M195.5 507v2M196 509.5h1M197.5 510v2M198 512.5h1M199 513.5h1M200.5 514v2M201 516.5h1M202 517.5h1M203 518.5h1M204.5 519v2M205 521.5h1M206 522.5h1M207.5 523v2M208 525.5h2M210 526.5h1M211 527.5h2M213 528.5h1M214 529.5h2M216 530.5h1M217 531.5h2M219 532.5h1M220 533.5h6M226 534.5h6M232 535.5h6M238 536.5h5M243 537.5h5M248 538.5h8M256 537.5h5M261 536.5h2M263 535.5h3M266 534.5h2M268 533.5h11M279 534.5h2M281 535.5h3M284 536.5h2M286 537.5h4M290 538.5h3M293 539.5h4M297 538.5h4M301 537.5h1M302 536.5h1M303 535.5h1M304 534.5h1M305 533.5h1M306 532.5h1M307 531.5h1M308 530.5h2M310 529.5h3M313 528.5h2M315 527.5h6M321 528.5h3M324 529.5h3M327 530.5h1M328.5 531v2M329 533.5h1M330 534.5h1M331 535.5h1M332 536.5h1M333.5 537v2M334.5 539v2M335 541.5h1M336.5 542v2M337.5 544v2M338 546.5h1M339 547.5h1M340 548.5h1M341 549.5h2M343 550.5h2M345 551.5h1M346 552.5h5M351 551.5h4M355 550.5h4M359 549.5h1M360.5 547v2M361 546.5h1M362.5 544v2M363 543.5h1M364 542.5h1M365.5 540v2M366 539.5h1M367 538.5h1M368 537.5h1M369 536.5h1M370 535.5h1M371 534.5h1M372 533.5h1M373 532.5h1M374 531.5h1M375 530.5h1M376 529.5h2M378 528.5h1M379 527.5h1M380 526.5h1M381 525.5h2M383 524.5h1M384 523.5h2M386 522.5h2M388 521.5h1M389.5 520v2M390 519.5h1M391 518.5h1M392 517.5h1M393.5 515v2M394 514.5h1M395 513.5h1M396 512.5h1M397 511.5h1M398 510.5h1M399 509.5h1M400 508.5h1M401 507.5h1M402 506.5h1M403 505.5h1M404 504.5h1M405 503.5h1M406 502.5h1M407 501.5h1M408 500.5h1M409 499.5h1M410 498.5h1M411 497.5h1M412 496.5h2M414 495.5h1M415 494.5h2M417 493.5h2M419 492.5h1M420 491.5h2M422 490.5h2M424 489.5h8M432 488.5h2M434 487.5h2M436 486.5h2M438 485.5h2M440 484.5h9M449 483.5h1M450 482.5h2M452 481.5h1M453 480.5h1M454 479.5h1M455 478.5h1M456 477.5h2M458 476.5h1M459 475.5h2M461 474.5h1M462 473.5h2M464 472.5h1M465 471.5h2M467 470.5h3M470 469.5h3M473 468.5h2M475 467.5h1M476 468.5h4M480 469.5h3M483 470.5h2M485 471.5h1M486 472.5h2M488 473.5h2M490 474.5h1M491 475.5h3M494 476.5h2M496 477.5h3M499 478.5h2M501 479.5h2M503 480.5h2M505 481.5h2M507 482.5h2M509 483.5h2M511 484.5h2M513 485.5h1M514 486.5h2M516 487.5h1M517 488.5h2M519 489.5h1M520 490.5h3M523 491.5h5M528 492.5h3M531.5 492v2M532 494.5h1M533.5 495v2M534.5 497v2M535 499.5h1M536.5 500v2M537 502.5h1M538.5 503v2M539 505.5h1M540 506.5h1M541.5 507v2M542 509.5h1M543.5 510v2M544 512.5h1M545 513.5h1M546.5 514v2M547 516.5h1M548 517.5h2M550 518.5h1M551 519.5h1M552 520.5h1M553 521.5h1M554 522.5h1M555 523.5h1M556 524.5h2M558 525.5h2M560 526.5h1M561 527.5h2M563 528.5h1M564 529.5h1M565 530.5h1M566 531.5h1M567 532.5h1M568 533.5h1M569 534.5h1M570 535.5h1M571 536.5h1M572 537.5h1M573 538.5h1M574 539.5h1M575 540.5h2M577 541.5h1M578 542.5h1M579 543.5h2M581 542.5h3M584 541.5h8M592 542.5h1M593 543.5h2M595 544.5h1M596 545.5h1M597 546.5h1M598 547.5h1M599 548.5h1M600 549.5h1M601 550.5h1M602 551.5h1M603 552.5h1M604 553.5h2M606 554.5h1M607 555.5h1M608 556.5h1M609 557.5h2M611 558.5h2M613 557.5h4M617 556.5h3M620 555.5h1M621 554.5h2M623 553.5h2M625 552.5h1M626 551.5h2M628.5 549v2M629.5 547v2M630 546.5h1M631.5 544v2M632.5 542v2M633 541.5h1M634 540.5h1M635 539.5h1M636 538.5h1M637 537.5h1M638 536.5h1M639 535.5h1M640 534.5h2M642 533.5h1M643 532.5h2M645 531.5h1M646 530.5h2M648 529.5h2M650 528.5h2M652 527.5h3M655 526.5h4M659 527.5h2M661 528.5h2M663 529.5h1M664 530.5h1M665 531.5h1M666 532.5h1M667 533.5h1M668 534.5h1M669 535.5h1M670.5 536v2M671 538.5h1M672 539.5h2M674 540.5h1M675 541.5h2M677 542.5h1M678 543.5h2M680 544.5h1M681 545.5h1M682 544.5h2M684 543.5h2M686 542.5h2M688 541.5h2M690 540.5h1M691 539.5h1M692.5 537v2M693 536.5h1M694.5 534v2M695 533.5h1M696 532.5h1M697 531.5h4M701 532.5h6M707 531.5h2M709 530.5h2M711 529.5h4M715 530.5h5M720 531.5h3M723.5 531v2M724 533.5h1M725.5 534v2M726 536.5h1M727.5 537v2M728 539.5h1M729 540.5h1M730 541.5h1M731 542.5h2M733 543.5h1M734 544.5h1M735.5 545v2M736 547.5h1M737 548.5h1M738 549.5h1M739 550.5h1M740.5 551v2M741 553.5h1M742 554.5h1M743 555.5h1M744 556.5h1M745.5 557v2M746 559.5h1M747 560.5h1M748 561.5h1M749 562.5h1M750 563.5h2M752 564.5h1M753 565.5h1M754 566.5h1M755.5 567v2M756 569.5h1M757.5 570v2M758 572.5h1M759 573.5h1M760 574.5h1M761 575.5h5M766 576.5h2M768 575.5h7M775 574.5h2M777 573.5h3M780 572.5h2M782 571.5h2M784 570.5h1M785 569.5h2M787 568.5h1M788 567.5h1M789 566.5h2M791 565.5h2M793 564.5h2M795 563.5h2M797.5 561v2M798.5 559v2M799.5 557v2M800.5 555v2M801 554.5h1M802.5 552v2M803 551.5h1M804 550.5h1M805 549.5h1M806.5 547v2M807 546.5h1M808 545.5h1M809 544.5h1M810 543.5h1M811 542.5h1M812 541.5h1M813 540.5h1M814 539.5h1M815 538.5h1M816 537.5h1M817 536.5h1M818 535.5h2M820 534.5h1M821 533.5h4M825 532.5h3M828 533.5h2M830 534.5h1M831 535.5h2M833 536.5h4M837 537.5h6M843 538.5h2M845 537.5h1M846 536.5h1M847 535.5h1M848 534.5h1M849 533.5h1M850 532.5h1M851 531.5h1M852 530.5h1M853 529.5h1M854 528.5h1M855.5 526v2M856 525.5h1M857.5 523v2M858.5 521v2M859.5 519v2M860.5 517v2M861.5 515v2M862.5 513v2M863.5 511v2M864.5 509v2M865.5 507v2M866.5 505v2M867.5 502v3M868.5 500v2M869.5 497v3M870.5 495v2M871.5 493v2M872.5 490v3M873 489.5h1M874 488.5h2M876 487.5h2M878 486.5h1M879 485.5h3M882 484.5h5M887 483.5h1M888 482.5h2M890 481.5h1M891 480.5h1M892 479.5h1M893 478.5h1M894 477.5h2M896 476.5h1M897 475.5h1M898 474.5h1M899 475.5h1M900 476.5h1M901 477.5h1M902 478.5h1M903 479.5h1M904.5 480v2M905 482.5h1M906 483.5h1M907 484.5h1M908 485.5h1M909 486.5h2M911 487.5h1M912 488.5h1M913 489.5h1M914 490.5h1M915 491.5h1M916 492.5h1M917 493.5h1M918 494.5h1M919 495.5h1M920 496.5h1M921 497.5h1M922 498.5h1M923 499.5h1M924 500.5h1M925 501.5h1M926 502.5h1M927 503.5h2M929 504.5h2M931 505.5h2M933 506.5h2M935 507.5h1M936 506.5h18M954 507.5h1M955 506.5h2M957 505.5h1M958.5 504v2M959.5 506v2M960 508.5h1M961.5 509v2M962 511.5h1M963.5 512v2M964 514.5h1M965 515.5h1M966 516.5h1M967.5 517v2M968 519.5h1M969 520.5h1M970 521.5h1M971 522.5h2M973 523.5h2M975 524.5h2M977 525.5h3M980 526.5h2M982 527.5h1" fill="none" stroke="#000000" stroke-width="1" shape-rendering="crispEdges"/>
<path d="M4 482.5h1M5 481.5h3M8 480.5h2M10 479.5h2M12 478.5h2M14 477.5h3M17 476.5h2M19 475.5h4M23 474.5h4M27 473.5h4M31 472.5h7M38 471.5h13M51 470.5h8M59 469.5h6M65 468.5h2M67 467.5h2M69 466.5h2M71 465.5h2M73 464.5h2M75 463.5h2M77 462.5h2M79 461.5h2M81 460.5h1M82 459.5h2M84 458.5h2M86 457.5h2M88 456.5h1M89 455.5h2M91 454.5h2M93 453.5h2M95 452.5h3M98 451.5h3M101 450.5h3M104 449.5h3M107 448.5h8M115 447.5h12M127 448.5h4M131 449.5h4M135 450.5h4M139 451.5h1M140 452.5h2M142 453.5h1M143 454.5h1M144 455.5h2M146 456.5h1M147 457.5h1M148 458.5h2M150 459.5h1M151 460.5h1M152 461.5h2M154 462.5h1M155 463.5h1M156 464.5h1M157 465.5h2M159 466.5h1M160 467.5h1M161 468.5h1M162 469.5h2M164 470.5h1M165 471.5h1M166 472.5h1M167 473.5h2M169 474.5h2M171 475.5h2M173 476.5h2M175 477.5h2M177 478.5h2M179 479.5h2M181 480.5h2M183 481.5h2M185 482.5h2M187 483.5h2M189 484.5h2M191 485.5h1M192 486.5h1M193 487.5h1M194 488.5h1M195 489.5h1M196 490.5h1M197 491.5h1M198 492.5h1M199 493.5h1M200 494.5h1M201 495.5h1M202 496.5h1M203 497.5h1M204 498.5h1M205 499.5h1M206 500.5h1M207 501.5h1M208 502.5h1M209 503.5h1M210 504.5h1M211 505.5h1M212 506.5h1M213 507.5h1M214 508.5h1M215 509.5h1M216 510.5h1M217 511.5h2M219 512.5h1M220 513.5h2M222 514.5h1M223 515.5h2M225 516.5h1M226 517.5h1M227 518.5h2M229 519.5h2M231 520.5h1M232 521.5h2M234 522.5h2M236 523.5h2M238 524.5h1M239 525.5h2M241 526.5h3M244 527.5h2M246 528.5h3M249 529.5h3M252 530.5h4M256 531.5h6M262 532.5h22M284 533.5h4M288 534.5h4M292 535.5h10M302 536.5h3M305 535.5h6M311 534.5h4M315 533.5h4M319 532.5h13M332 533.5h3M335 534.5h2M337 535.5h2M339 536.5h2M341 537.5h2M343 538.5h2M345 539.5h2M347 540.5h3M350 541.5h3M353 542.5h3M356 543.5h12M368 542.5h3M371 541.5h4M375 540.5h2M377 539.5h2M379 538.5h3M382 537.5h2M384 536.5h2M386 535.5h2M388 534.5h2M390 533.5h1M391 532.5h2M393 531.5h1M394 530.5h2M396 529.5h1M397 528.5h2M399 527.5h1M400 526.5h1M401 525.5h1M402 524.5h2M404 523.5h1M405 522.5h1M406 521.5h1M407 520.5h2M409 519.5h1M410 518.5h1M411 517.5h1M412 516.5h2M414 515.5h1M415 514.5h1M416 513.5h1M417 512.5h2M419 511.5h1M420 510.5h1M421 509.5h2M423 508.5h1M424 507.5h1M425 506.5h2M427 505.5h1M428 504.5h2M430 503.5h1M431 502.5h2M433 501.5h2M435 500.5h2M437 499.5h2M439 498.5h2M441 497.5h2M443 496.5h2M445 495.5h2M447 494.5h2M449 493.5h2M451 492.5h2M453 491.5h2M455 490.5h2M457 489.5h2M459 488.5h2M461 487.5h2M463 486.5h2M465 485.5h2M467 484.5h1M468 483.5h2M470 482.5h2M472 481.5h3M475 480.5h3M478 479.5h2M480 478.5h3M483 477.5h19M502 478.5h9M511 479.5h3M514 480.5h4M518 481.5h3M521 482.5h3M524 483.5h3M527 484.5h4M531 485.5h2M533 486.5h1M534 487.5h2M536 488.5h2M538 489.5h1M539 490.5h2M541 491.5h2M543 492.5h1M544 493.5h2M546 494.5h1M547 495.5h1M548 496.5h1M549 497.5h1M550 498.5h1M551 499.5h2M553 500.5h1M554 501.5h1M555 502.5h1M556 503.5h1M557 504.5h1M558 505.5h2M560 506.5h1M561 507.5h1M562 508.5h1M563 509.5h1M564 510.5h2M566 511.5h1M567 512.5h1M568 513.5h1M569 514.5h1M570 515.5h2M572 516.5h1M573 517.5h1M574 518.5h1M575 519.5h2M577 520.5h1M578 521.5h1M579 522.5h1M580 523.5h2M582 524.5h2M584 525.5h1M585 526.5h2M587 527.5h1M588 528.5h2M590 529.5h2M592 530.5h1M593 531.5h2M595 532.5h2M597 533.5h1M598 534.5h2M600 535.5h2M602 536.5h1M603 537.5h2M605 538.5h2M607 539.5h2M609 540.5h1M610 541.5h2M612 542.5h2M614 543.5h2M616 544.5h3M619 545.5h4M623 546.5h4M627 547.5h2M629 546.5h4M633 545.5h3M636 544.5h3M639 543.5h3M642 542.5h2M644 541.5h2M646 540.5h2M648 539.5h3M651 538.5h3M654 537.5h3M657 536.5h3M660 535.5h3M663 534.5h5M668 535.5h7M675 536.5h4M679 537.5h4M683 538.5h12M695 537.5h6M701 536.5h5M706 535.5h4M710 534.5h9M719 533.5h9M728 534.5h5M733 535.5h2M735 536.5h2M737 537.5h1M738 538.5h2M740 539.5h1M741 540.5h2M743 541.5h1M744 542.5h2M746 543.5h1M747 544.5h2M749 545.5h1M750 546.5h2M752 547.5h1M753 548.5h1M754 549.5h2M756 550.5h1M757 551.5h1M758 552.5h1M759 553.5h1M760 554.5h2M762 555.5h1M763 556.5h1M764 557.5h2M766 558.5h1M767 559.5h2M769 560.5h2M771 561.5h2M773 562.5h1M774 563.5h3M777 564.5h3M780 565.5h2M782 566.5h9M791 565.5h6M797 564.5h4M801 563.5h2M803 562.5h2M805 561.5h2M807 560.5h1M808 559.5h2M810 558.5h2M812 557.5h2M814 556.5h1M815 555.5h2M817 554.5h1M818 553.5h2M820 552.5h1M821 551.5h2M823 550.5h1M824 549.5h2M826 548.5h1M827 547.5h2M829 546.5h2M831 545.5h4M835 544.5h4M839 543.5h5M844 542.5h3M847 541.5h3M850 540.5h2M852 539.5h2M854 538.5h2M856 537.5h1M857 536.5h2M859 535.5h1M860 534.5h1M861 533.5h1M862 532.5h1M863 531.5h1M864 530.5h1M865 529.5h1M866 528.5h1M867.5 526v2M868 525.5h1M869 524.5h1M870 523.5h1M871 522.5h1M872.5 520v2M873 519.5h1M874 518.5h1M875 517.5h1M876 516.5h1M877 515.5h1M878 514.5h1M879 513.5h1M880.5 511v2M881 510.5h1M882 509.5h1M883 508.5h1M884 507.5h1M885 506.5h1M886 505.5h1M887 504.5h1M888 503.5h2M890 502.5h1M891 501.5h1M892 500.5h1M893 499.5h1M894 498.5h1M895 497.5h1M896 496.5h2M898 495.5h2M900 494.5h2M902 493.5h2M904 492.5h2M906 491.5h10M916 492.5h4M920 493.5h4M924 494.5h3M927 495.5h4M931 496.5h3M934 497.5h3M937 498.5h3M940 499.5h4M944 500.5h4M948 501.5h5M953 502.5h5M958 503.5h3M961 504.5h2M963 505.5h1M964 506.5h2M966 507.5h2M968 508.5h2M970 509.5h3M973 510.5h2M975 511.5h3M978 512.5h3M981 513.5h2" fill="none" stroke="#000099" stroke-width="1" shape-rendering="crispEdges"/>
<g shape-rendering="crispEdges"><rect x="116" y="62" width="7" height="1" fill="#000"/><rect x="118" y="60" width="1" height="5" fill="#000"/></g>
<g shape-rendering="crispEdges"><rect x="476" y="122" width="7" height="1" fill="#000"/><rect x="478" y="120" width="1" height="5" fill="#000"/></g>
<g shape-rendering="crispEdges"><rect x="338" y="279" width="7" height="1" fill="#000"/><rect x="340" y="277" width="1" height="5" fill="#000"/></g>
<g shape-rendering="crispEdges"><rect x="758" y="393" width="7" height="1" fill="#000"/><rect x="760" y="391" width="1" height="5" fill="#000"/></g>
<text x="123.3" y="58.7" font-family="Liberation Sans, sans-serif" font-weight="bold" font-size="12" fill="#CF4A42">92.18</text>
<text x="483.8" y="118.7" font-family="Liberation Sans, sans-serif" font-weight="bold" font-size="12" fill="#CF4A42">87.95</text>
<text x="346" y="291.3" font-family="Liberation Sans, sans-serif" font-weight="bold" font-size="12" fill="#62A862">76.76</text>
<text x="765.8" y="404.7" font-family="Liberation Sans, sans-serif" font-weight="bold" font-size="12" fill="#62A862">68.68</text>
<text x="1015.5" y="25.8" font-family="Liberation Sans, sans-serif" font-size="12" fill="#262b38">95.00</text>
<text x="1015.5" y="82.6" font-family="Liberation Sans, sans-serif" font-size="12" fill="#262b38">90.98</text>
<text x="1015.5" y="139.3" font-family="Liberation Sans, sans-serif" font-size="12" fill="#262b38">86.95</text>
<text x="1015.5" y="195.4" font-family="Liberation Sans, sans-serif" font-size="12" fill="#262b38">82.93</text>
<text x="1015.5" y="252.3" font-family="Liberation Sans, sans-serif" font-size="12" fill="#262b38">78.91</text>
<text x="1015.5" y="307.7" font-family="Liberation Sans, sans-serif" font-size="12" fill="#262b38">74.88</text>
<text x="1015.5" y="364.8" font-family="Liberation Sans, sans-serif" font-size="12" fill="#262b38">70.86</text>
<text x="1015.3" y="444.3" font-family="Liberation Sans, sans-serif" font-size="12" fill="#262b38">2.04</text>
<text x="1015.3" y="470.9" font-family="Liberation Sans, sans-serif" font-size="12" fill="#262b38">1.15</text>
<text x="1015.3" y="497.8" font-family="Liberation Sans, sans-serif" font-size="12" fill="#262b38">0.26</text>
<text x="1016.2" y="525.3" font-family="Liberation Sans, sans-serif" font-size="12" fill="#262b38">-0.63</text>
<text x="1016.2" y="552.4" font-family="Liberation Sans, sans-serif" font-size="12" fill="#262b38">-1.52</text>
<rect x="1012.5" y="340.5" width="64" height="17" fill="#fff" stroke="#FF8000" stroke-width="1"/>
<text x="1014.8" y="352.8" font-family="Liberation Sans, sans-serif" font-size="12" fill="#FF8000">72.42</text>
<path d="M1072.2,335.9 L1073.2,334.2 L1074,334 L1074,335.9 Z M1071.8,340.2 L1073.3,338 L1074,338 L1074,340.2 Z" fill="#FF8000"/>
<text x="65.8" y="590" font-family="Liberation Sans, sans-serif" font-weight="bold" font-size="12.6" fill="#2b2f3a">2024/04</text>
<text x="197.8" y="590" font-family="Liberation Sans, sans-serif" font-weight="bold" font-size="12.6" fill="#2b2f3a">2024/05</text>
<text x="335.8" y="590" font-family="Liberation Sans, sans-serif" font-weight="bold" font-size="12.6" fill="#2b2f3a">2024/06</text>
<text x="455.8" y="590" font-family="Liberation Sans, sans-serif" font-weight="bold" font-size="12.6" fill="#2b2f3a">2024/07</text>
<text x="593.8" y="590" font-family="Liberation Sans, sans-serif" font-weight="bold" font-size="12.6" fill="#2b2f3a">2024/08</text>
<text x="725.8" y="590" font-family="Liberation Sans, sans-serif" font-weight="bold" font-size="12.6" fill="#2b2f3a">2024/09</text>
<text x="851.8" y="590" font-family="Liberation Sans, sans-serif" font-weight="bold" font-size="12.6" fill="#2b2f3a">2024/10</text>
<rect x="949.5" y="2.5" width="13" height="13" fill="#fff" stroke="#1874CD" stroke-width="1"/>
<rect x="965.5" y="2.5" width="13" height="13" fill="#fff" stroke="#1874CD" stroke-width="1"/>
<rect x="981.5" y="2.5" width="13" height="13" fill="#fff" stroke="#1874CD" stroke-width="1"/>
<rect x="997.5" y="2.5" width="13" height="13" fill="#fff" stroke="#1874CD" stroke-width="1"/>
<g fill="#1874CD" shape-rendering="crispEdges"><rect x="955" y="4" width="2" height="3"/><rect x="955" y="11" width="2" height="3"/><rect x="951" y="8" width="3" height="2"/><rect x="958" y="8" width="3" height="2"/><rect x="955" y="8" width="2" height="2"/></g>
<g fill="#1874CD" shape-rendering="crispEdges"><rect x="968" y="4" width="1" height="10"/><rect x="967" y="5" width="3" height="1"/><rect x="967" y="12" width="10" height="1"/><rect x="968" y="11" width="1" height="3"/><rect x="975" y="11" width="1" height="3"/><rect x="976" y="12" width="1" height="1"/><rect x="967" y="12" width="1" height="1"/><rect x="971" y="5" width="1" height="6"/></g><path d="M972,8 L975,5.3 L975,10.7 Z" fill="#3d8ad6"/>
<g fill="#1874CD" shape-rendering="crispEdges"><rect x="984" y="4" width="1" height="10"/><rect x="983" y="5" width="3" height="1"/><rect x="983" y="12" width="10" height="1"/><rect x="984" y="11" width="1" height="3"/><rect x="991" y="11" width="1" height="3"/><rect x="992" y="12" width="1" height="1"/><rect x="983" y="12" width="1" height="1"/><rect x="987" y="5" width="1" height="6"/></g><path d="M988,5 L992.4,8.2 L988,11.4 Z" fill="#3d8ad6"/>
<g fill="#1874CD" shape-rendering="crispEdges"><rect x="999" y="4" width="1" height="10"/><rect x="999" y="4" width="4" height="1"/><rect x="999" y="13" width="4" height="1"/><rect x="1002" y="4" width="1" height="10"/><rect x="1001" y="8" width="5" height="2"/></g><path d="M1005.3,5.6 L1008.6,9 L1005.3,12.4 Z" fill="#1874CD"/>
<rect x="151.7" y="2.7" width="11" height="12" fill="#fff" stroke="#1a1a8c" stroke-width="1.4"/>
<rect x="152" y="14.6" width="11.6" height="0.8" fill="#1a1a8c"/>
<polyline points="152.4,9.6 155.7,5.4 158.2,8.4 162.2,6" fill="none" stroke="#f01818" stroke-width="1.1"/>
<polyline points="152.4,12.8 155.2,8.9 158.6,11.5 162.2,8.4" fill="none" stroke="#1a3ce0" stroke-width="1.1"/>
<circle cx="138.6" cy="12.2" r="4.1" fill="none" stroke="#FF8C1A" stroke-width="0.9"/><line x1="134.5" y1="12.2" x2="142.7" y2="12.2" stroke="#FF8C1A" stroke-width="0.9"/><line x1="138.6" y1="8.1" x2="138.6" y2="16.3" stroke="#FF8C1A" stroke-width="0.9"/>
</svg>
<div class="t cj" style="left:2px;top:4px;color:#111;">布伦特原油连续</div>
<div class="t cj" style="left:86px;top:4.5px;color:#FF8000;">【日线】</div>
<div class="t" style="left:166px;top:4px;color:#222;">MA(9,14,20,50,100,200)</div>
<div class="t" style="left:304.5px;top:4px;color:#222;">MA9:73.71</div>
<div class="t" style="left:373.5px;top:4px;color:#1a1a9a;">MA14:73.97</div>
<div class="t" style="left:449px;top:4px;color:#FF00FF;">MA20:75.33</div>
<div class="t" style="left:526px;top:4px;color:#FF8000;">MA50:74.66</div>
<div class="t" style="left:601.3px;top:4px;color:#666;">MA100:78.44</div>
<div class="t" style="left:684.3px;top:4px;color:#D2403A;">MA200:81.15</div>
<div class="t" style="left:2.6px;top:421.5px;color:#222;font-size:12.15px;">MACD(26,12,9)</div>
<div class="t" style="left:92.6px;top:421.5px;color:#222;font-size:11.7px;">DIFF:-0.74</div>
<div class="t" style="left:157.6px;top:421.5px;color:#1a1a9a;font-size:11.8px;">DEA:-0.35</div>
<div class="t" style="left:221.4px;top:421.5px;color:#FF00FF;">MACD:-0.78</div>
<div style="position:absolute;left:0;top:597px;width:9px;height:15px;background:#1874CD;"></div>
<div style="position:absolute;left:0;top:599.5px;width:1.2px;height:1.2px;background:#fff;"></div>
<div style="position:absolute;left:0;top:604.3px;width:1.2px;height:1.4px;background:#fff;"></div>
<div style="position:absolute;left:0;top:609.6px;width:1.2px;height:1.3px;background:#fff;"></div>
<div class="tab" style="left:9px;width:57px;color:#FF8000;"><span style="font-family:'Liberation Serif',serif;font-size:11px;position:relative;top:-0.7px;">VIP</span>指标</div>
<div class="tab" style="left:67px;width:40px;color:#1c2330;">标准</div>
<div class="tab" style="left:107px;width:64px;color:#fff;background:#1874CD;border-color:#1874CD;">另存模板</div>
<div class="tab" style="left:171px;width:63px;color:#1c2330;">管理模板</div>
<div style="position:absolute;left:0;top:613px;width:1074px;height:1px;background:#d0d6de;"></div>
<div style="position:absolute;left:406px;top:614px;width:180px;height:2px;background:#bcbcbc;"></div>
<div style="position:absolute;left:485px;top:615px;width:22px;height:1px;background:#6a6a6a;"></div>
</body></html>
